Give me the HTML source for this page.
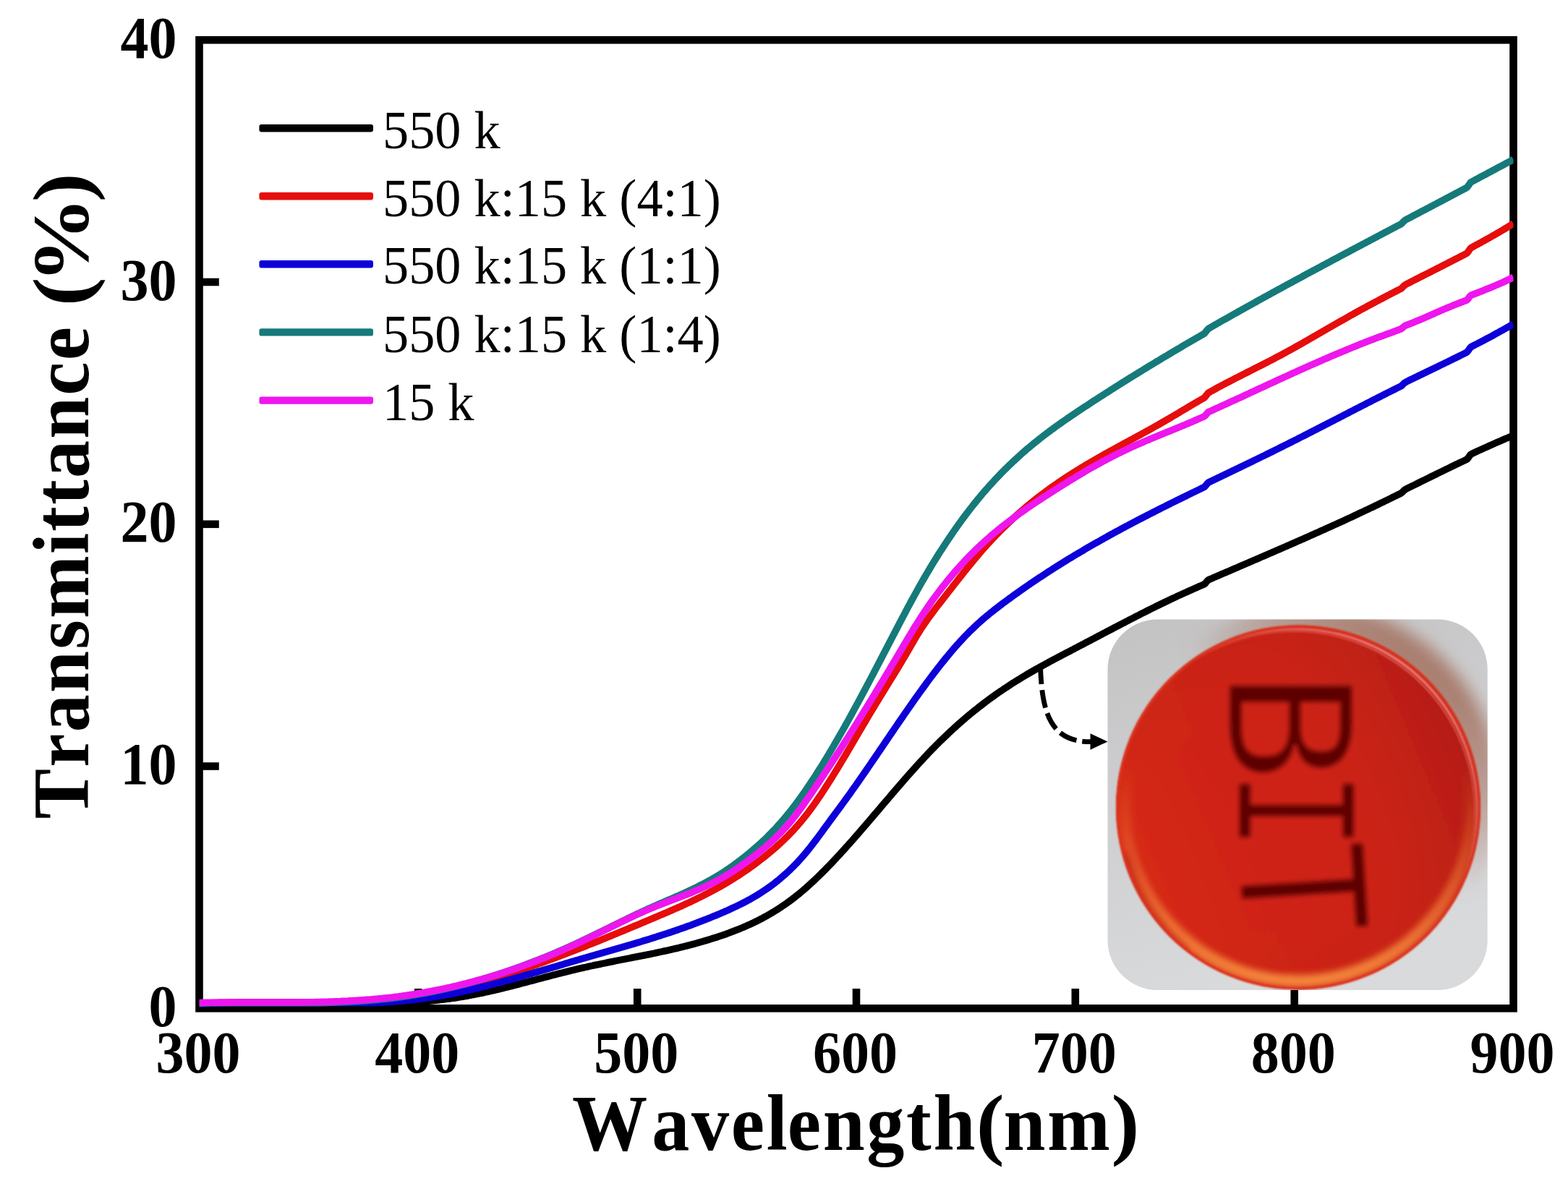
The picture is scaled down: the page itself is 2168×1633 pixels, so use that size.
<!DOCTYPE html>
<html lang="en"><head><meta charset="utf-8"><title>Transmittance vs Wavelength</title>
<style>
html,body{margin:0;padding:0;background:#fff;}
body{width:2168px;height:1633px;overflow:hidden;}
svg{display:block;}
text{font-family:"Liberation Serif","Times New Roman",serif;fill:#000;}
.tk{font-weight:bold;font-size:78px;}
.ax{font-weight:bold;font-size:104.2px;font-kerning:none;letter-spacing:2.65px;}
.lg{font-size:72.3px;}
</style></head><body>
<svg xmlns="http://www.w3.org/2000/svg" width="2168" height="1633" viewBox="0 0 2168 1633">
<defs>
<clipPath id="plot"><rect x="275.5" y="55.3" width="1817.0" height="1339.0"/></clipPath>
<clipPath id="phclip"><rect x="1531.5" y="856.5" width="525.2" height="512.5" rx="69" ry="69"/></clipPath>
<clipPath id="discclip"><circle cx="1795" cy="1116.5" r="252.5"/></clipPath>
<linearGradient id="phbg" x1="0" y1="0" x2="0.25" y2="1"><stop offset="0" stop-color="#c3c2c2"/><stop offset="0.35" stop-color="#cbcbcd"/><stop offset="1" stop-color="#d9dadc"/></linearGradient>
<radialGradient id="disc" gradientUnits="userSpaceOnUse" cx="1760" cy="1130" r="300"><stop offset="0" stop-color="#cf2213"/><stop offset="0.6" stop-color="#cd2415"/><stop offset="0.85" stop-color="#c82416"/><stop offset="1" stop-color="#c42618"/></radialGradient>
<linearGradient id="discshade" gradientUnits="userSpaceOnUse" x1="1560" y1="1200" x2="2040" y2="1000"><stop offset="0" stop-color="#e03018" stop-opacity="0.55"/><stop offset="0.45" stop-color="#d02414" stop-opacity="0"/><stop offset="1" stop-color="#8c0c0a" stop-opacity="0.38"/></linearGradient>
<linearGradient id="glowmask" gradientUnits="userSpaceOnUse" x1="1795" y1="1060" x2="1795" y2="1370"><stop offset="0" stop-color="#000"/><stop offset="0.35" stop-color="#555"/><stop offset="1" stop-color="#fff"/></linearGradient>
<mask id="glowm" maskUnits="userSpaceOnUse" x="1500" y="840" width="600" height="560"><rect x="1500" y="840" width="600" height="560" fill="url(#glowmask)"/></mask>
<linearGradient id="topmask" gradientUnits="userSpaceOnUse" x1="1650" y1="1250" x2="1950" y2="900"><stop offset="0" stop-color="#000"/><stop offset="0.55" stop-color="#000"/><stop offset="1" stop-color="#fff"/></linearGradient>
<mask id="topm" maskUnits="userSpaceOnUse" x="1500" y="840" width="600" height="560"><rect x="1500" y="840" width="600" height="560" fill="url(#topmask)"/></mask>
<filter id="b1" x="-5%" y="-5%" width="110%" height="110%"><feGaussianBlur stdDeviation="1.3"/></filter>
<filter id="b3" x="-10%" y="-10%" width="120%" height="120%"><feGaussianBlur stdDeviation="4"/></filter>
<filter id="b8" x="-20%" y="-20%" width="140%" height="140%"><feGaussianBlur stdDeviation="11"/></filter>
<filter id="ink" x="-20%" y="-20%" width="140%" height="140%"><feMorphology operator="erode" radius="2.2"/><feGaussianBlur stdDeviation="3.2"/></filter>
<filter id="soft" x="0" y="0" width="100%" height="100%" filterUnits="objectBoundingBox"><feGaussianBlur stdDeviation="0.75"/></filter>
</defs>
<rect width="2168" height="1633" fill="#ffffff"/>
<g filter="url(#soft)">
<rect width="2168" height="1633" fill="#ffffff"/>
<rect x="275.5" y="55.3" width="1817.0" height="1339.0" fill="none" stroke="#000" stroke-width="10.6"/>
<g stroke="#000" stroke-width="10.6" fill="none">
<line x1="578.3" y1="1394.3" x2="578.3" y2="1367.0"/>
<line x1="881.2" y1="1394.3" x2="881.2" y2="1367.0"/>
<line x1="1184.0" y1="1394.3" x2="1184.0" y2="1367.0"/>
<line x1="1486.8" y1="1394.3" x2="1486.8" y2="1367.0"/>
<line x1="1789.7" y1="1394.3" x2="1789.7" y2="1367.0"/>
<line x1="275.5" y1="1059.5" x2="302.8" y2="1059.5"/>
<line x1="275.5" y1="724.8" x2="302.8" y2="724.8"/>
<line x1="275.5" y1="390.0" x2="302.8" y2="390.0"/>
</g>
<g clip-path="url(#phclip)">
<rect x="1525" y="850" width="540" height="526" fill="url(#phbg)"/>
<g filter="url(#b8)"><circle cx="1812" cy="1098" r="262" fill="#a3705e" opacity="0.85" mask="url(#topm)"/></g>
<g filter="url(#b1)">
<circle cx="1795" cy="1116.5" r="252" fill="url(#disc)"/>
<circle cx="1795" cy="1116.5" r="252" fill="url(#discshade)"/>
<g clip-path="url(#discclip)">
<g filter="url(#b3)" mask="url(#glowm)"><circle cx="1795" cy="1116.5" r="240" fill="none" stroke="#f58a3e" stroke-width="17"/></g>
<g filter="url(#b3)"><path d="M1556,1180 A248,248 0 0 0 1640,1316" fill="none" stroke="#a81c10" stroke-width="9" opacity="0.55"/></g>
<circle cx="1795" cy="1116.5" r="250.3" fill="none" stroke="#dc3420" stroke-width="4" opacity="0.9"/>
<g mask="url(#topm)"><circle cx="1793" cy="1119" r="249" fill="none" stroke="#ff8c88" stroke-width="2.6"/><circle cx="1790" cy="1122" r="249" fill="none" stroke="#f06a60" stroke-width="2" opacity="0.8"/></g>
</g>
</g>
<g filter="url(#ink)" style="font-family:'DejaVu Sans Mono','Liberation Mono',monospace;font-size:300px;fill:#560606" opacity="0.93">
<text transform="translate(1699,925.5) rotate(90) scale(0.867,0.785)" style="fill:#560606;font-family:'DejaVu Sans Mono','Liberation Mono',monospace;font-size:300px">B</text>
<text transform="translate(1712,1063.5) rotate(90) scale(0.635,0.735)" style="fill:#560606;font-family:'DejaVu Sans Mono','Liberation Mono',monospace;font-size:300px">I</text>
<text transform="translate(1711,1170) rotate(86.4) scale(0.71,0.80)" style="fill:#560606;font-family:'DejaVu Sans Mono','Liberation Mono',monospace;font-size:300px">T</text>
</g>
</g>
<g clip-path="url(#plot)" fill="none" stroke-linejoin="round" stroke-linecap="butt">
<path d="M275.5,1388.7 L278.1,1388.6 L280.7,1388.6 L283.3,1388.5 L285.9,1388.5 L288.5,1388.4 L291.1,1388.4 L293.7,1388.3 L296.3,1388.3 L298.9,1388.3 L301.5,1388.2 L304.1,1388.2 L306.7,1388.2 L309.3,1388.1 L311.9,1388.1 L314.5,1388.1 L317.1,1388.1 L319.7,1388.1 L322.3,1388.1 L324.9,1388.0 L327.5,1388.0 L330.1,1388.0 L332.7,1388.0 L335.3,1388.0 L337.9,1388.0 L340.5,1388.0 L343.1,1388.0 L345.7,1388.0 L348.3,1388.0 L350.9,1388.0 L353.5,1388.0 L356.1,1388.0 L358.7,1388.0 L361.3,1388.0 L363.9,1388.0 L366.5,1388.0 L369.1,1388.0 L371.7,1388.0 L374.3,1388.0 L376.9,1388.0 L379.5,1388.0 L382.1,1388.0 L384.7,1388.0 L387.3,1388.0 L389.9,1388.0 L392.5,1388.0 L395.1,1388.0 L397.7,1388.0 L400.3,1388.0 L402.9,1388.0 L405.5,1388.0 L408.1,1388.0 L410.7,1388.0 L413.3,1388.0 L415.9,1388.0 L418.5,1388.0 L421.1,1388.0 L423.7,1388.0 L426.3,1388.0 L428.9,1388.0 L431.5,1388.0 L434.1,1388.0 L436.7,1388.0 L439.3,1388.0 L441.9,1388.0 L444.5,1388.0 L447.1,1388.0 L449.7,1388.0 L452.3,1388.0 L454.9,1388.0 L457.5,1388.0 L460.1,1388.0 L462.7,1388.0 L465.3,1388.0 L467.9,1388.0 L470.5,1388.0 L473.1,1388.0 L475.7,1388.0 L478.3,1388.0 L480.9,1388.0 L483.5,1388.0 L486.1,1388.0 L488.7,1388.0 L491.3,1388.0 L493.9,1388.0 L496.5,1388.0 L499.1,1388.0 L501.7,1388.0 L504.2,1388.0 L506.8,1388.0 L509.4,1388.0 L512.0,1388.0 L514.6,1388.0 L517.2,1388.0 L519.8,1388.0 L522.4,1388.0 L525.0,1387.9 L527.6,1387.8 L530.2,1387.8 L532.8,1387.7 L535.4,1387.6 L538.0,1387.5 L540.6,1387.4 L543.2,1387.3 L545.8,1387.2 L548.4,1387.1 L551.0,1386.9 L553.6,1386.8 L556.2,1386.7 L558.8,1386.6 L561.4,1386.4 L564.0,1386.3 L566.6,1386.1 L569.2,1385.9 L571.8,1385.8 L574.4,1385.6 L577.0,1385.4 L579.6,1385.2 L582.2,1385.0 L584.8,1384.8 L587.4,1384.6 L590.0,1384.4 L592.6,1384.2 L595.2,1383.9 L597.8,1383.7 L600.4,1383.4 L603.0,1383.1 L605.6,1382.9 L608.2,1382.6 L610.8,1382.3 L613.4,1382.0 L616.0,1381.6 L618.6,1381.3 L621.2,1381.0 L623.8,1380.6 L626.4,1380.2 L629.0,1379.9 L631.6,1379.5 L634.2,1379.1 L636.8,1378.6 L639.4,1378.2 L642.0,1377.8 L644.6,1377.3 L647.2,1376.9 L649.8,1376.4 L652.4,1375.9 L655.0,1375.4 L657.6,1374.9 L660.2,1374.3 L662.8,1373.8 L665.4,1373.3 L668.0,1372.7 L670.6,1372.1 L673.2,1371.6 L675.8,1371.0 L678.4,1370.4 L681.0,1369.8 L683.6,1369.2 L686.2,1368.6 L688.8,1368.0 L691.4,1367.3 L694.0,1366.7 L696.6,1366.1 L699.2,1365.4 L701.8,1364.8 L704.4,1364.1 L707.0,1363.5 L709.6,1362.8 L712.2,1362.1 L714.8,1361.5 L717.4,1360.8 L720.0,1360.1 L722.6,1359.4 L725.2,1358.7 L727.8,1358.1 L730.4,1357.4 L733.0,1356.7 L735.6,1356.0 L738.2,1355.3 L740.8,1354.6 L743.4,1353.9 L746.0,1353.2 L748.6,1352.6 L751.2,1351.9 L753.8,1351.2 L756.4,1350.5 L759.0,1349.8 L761.6,1349.1 L764.2,1348.4 L766.8,1347.8 L769.4,1347.1 L772.0,1346.4 L774.6,1345.8 L777.2,1345.1 L779.8,1344.5 L782.4,1343.8 L785.0,1343.2 L787.6,1342.5 L790.2,1341.9 L792.8,1341.3 L795.4,1340.6 L798.0,1340.0 L800.6,1339.4 L803.2,1338.8 L805.8,1338.2 L808.4,1337.6 L811.0,1337.1 L813.6,1336.5 L816.2,1335.9 L818.8,1335.4 L821.4,1334.8 L824.0,1334.2 L826.6,1333.7 L829.2,1333.2 L831.8,1332.6 L834.4,1332.1 L837.0,1331.6 L839.6,1331.0 L842.2,1330.5 L844.8,1330.0 L847.4,1329.5 L850.0,1328.9 L852.6,1328.4 L855.2,1327.9 L857.8,1327.4 L860.4,1326.9 L863.0,1326.4 L865.6,1325.9 L868.2,1325.4 L870.8,1324.9 L873.4,1324.3 L876.0,1323.8 L878.6,1323.3 L881.2,1322.8 L883.8,1322.3 L886.4,1321.8 L889.0,1321.3 L891.6,1320.7 L894.2,1320.2 L896.8,1319.7 L899.4,1319.2 L902.0,1318.6 L904.6,1318.1 L907.2,1317.5 L909.8,1317.0 L912.4,1316.4 L915.0,1315.9 L917.6,1315.3 L920.2,1314.7 L922.8,1314.2 L925.4,1313.6 L928.0,1313.0 L930.6,1312.4 L933.2,1311.8 L935.8,1311.2 L938.4,1310.6 L941.0,1309.9 L943.6,1309.3 L946.2,1308.6 L948.8,1308.0 L951.4,1307.3 L954.0,1306.7 L956.6,1306.0 L959.1,1305.3 L961.7,1304.6 L964.3,1303.9 L966.9,1303.1 L969.5,1302.4 L972.1,1301.7 L974.7,1300.9 L977.3,1300.1 L979.9,1299.3 L982.5,1298.5 L985.1,1297.7 L987.7,1296.9 L990.3,1296.1 L992.9,1295.2 L995.5,1294.3 L998.1,1293.5 L1000.7,1292.6 L1003.3,1291.7 L1005.9,1290.7 L1008.5,1289.8 L1011.1,1288.8 L1013.7,1287.8 L1016.3,1286.8 L1018.9,1285.8 L1021.5,1284.8 L1024.1,1283.7 L1026.7,1282.6 L1029.3,1281.5 L1031.9,1280.4 L1034.5,1279.2 L1037.1,1278.1 L1039.7,1276.8 L1042.3,1275.6 L1044.9,1274.3 L1047.5,1273.1 L1050.1,1271.7 L1052.7,1270.4 L1055.3,1269.0 L1057.9,1267.6 L1060.5,1266.2 L1063.1,1264.7 L1065.7,1263.2 L1068.3,1261.6 L1070.9,1260.0 L1073.5,1258.4 L1076.1,1256.8 L1078.7,1255.1 L1081.3,1253.3 L1083.9,1251.6 L1086.5,1249.8 L1089.1,1247.9 L1091.7,1246.0 L1094.3,1244.1 L1096.9,1242.1 L1099.5,1240.1 L1102.1,1238.0 L1104.7,1235.9 L1107.3,1233.8 L1109.9,1231.6 L1112.5,1229.3 L1115.1,1227.1 L1117.7,1224.7 L1120.3,1222.4 L1122.9,1220.0 L1125.5,1217.6 L1128.1,1215.1 L1130.7,1212.6 L1133.3,1210.1 L1135.9,1207.5 L1138.5,1205.0 L1141.1,1202.3 L1143.7,1199.7 L1146.3,1197.0 L1148.9,1194.3 L1151.5,1191.6 L1154.1,1188.8 L1156.7,1186.0 L1159.3,1183.2 L1161.9,1180.4 L1164.5,1177.6 L1167.1,1174.7 L1169.7,1171.8 L1172.3,1168.9 L1174.9,1166.0 L1177.5,1163.1 L1180.1,1160.1 L1182.7,1157.1 L1185.3,1154.2 L1187.9,1151.2 L1190.5,1148.2 L1193.1,1145.2 L1195.7,1142.1 L1198.3,1139.1 L1200.9,1136.1 L1203.5,1133.0 L1206.1,1130.0 L1208.7,1126.9 L1211.3,1123.9 L1213.9,1120.8 L1216.5,1117.8 L1219.1,1114.7 L1221.7,1111.7 L1224.3,1108.6 L1226.9,1105.6 L1229.5,1102.5 L1232.1,1099.5 L1234.7,1096.4 L1237.3,1093.4 L1239.9,1090.4 L1242.5,1087.4 L1245.1,1084.4 L1247.7,1081.4 L1250.3,1078.4 L1252.9,1075.4 L1255.5,1072.4 L1258.1,1069.5 L1260.7,1066.6 L1263.3,1063.7 L1265.9,1060.8 L1268.5,1057.9 L1271.1,1055.1 L1273.7,1052.2 L1276.3,1049.4 L1278.9,1046.6 L1281.5,1043.9 L1284.1,1041.1 L1286.7,1038.4 L1289.3,1035.7 L1291.9,1033.1 L1294.5,1030.4 L1297.1,1027.8 L1299.7,1025.2 L1302.3,1022.7 L1304.9,1020.2 L1307.5,1017.7 L1310.1,1015.2 L1312.7,1012.8 L1315.3,1010.3 L1317.9,1008.0 L1320.5,1005.6 L1323.1,1003.2 L1325.7,1000.9 L1328.3,998.6 L1330.9,996.4 L1333.5,994.1 L1336.1,991.9 L1338.7,989.7 L1341.3,987.6 L1343.9,985.4 L1346.5,983.3 L1349.1,981.2 L1351.7,979.2 L1354.3,977.1 L1356.9,975.1 L1359.5,973.1 L1362.1,971.1 L1364.7,969.2 L1367.3,967.2 L1369.9,965.3 L1372.5,963.5 L1375.1,961.6 L1377.7,959.7 L1380.3,957.9 L1382.9,956.1 L1385.5,954.4 L1388.1,952.6 L1390.7,950.9 L1393.3,949.2 L1395.9,947.5 L1398.5,945.8 L1401.1,944.1 L1403.7,942.5 L1406.3,940.9 L1408.9,939.3 L1411.4,937.7 L1414.0,936.1 L1416.6,934.6 L1419.2,933.0 L1421.8,931.5 L1424.4,930.0 L1427.0,928.5 L1429.6,927.0 L1432.2,925.5 L1434.8,924.1 L1437.4,922.6 L1440.0,921.2 L1442.6,919.8 L1445.2,918.3 L1447.8,916.9 L1450.4,915.5 L1453.0,914.1 L1455.6,912.7 L1458.2,911.3 L1460.8,910.0 L1463.4,908.6 L1466.0,907.2 L1468.6,905.8 L1471.2,904.5 L1473.8,903.1 L1476.4,901.8 L1479.0,900.4 L1481.6,899.0 L1484.2,897.7 L1486.8,896.3 L1489.4,895.0 L1492.0,893.6 L1494.6,892.2 L1497.2,890.9 L1499.8,889.5 L1502.4,888.1 L1505.0,886.8 L1507.6,885.4 L1510.2,884.0 L1512.8,882.7 L1515.4,881.3 L1518.0,879.9 L1520.6,878.6 L1523.2,877.2 L1525.8,875.8 L1528.4,874.5 L1531.0,873.1 L1533.6,871.7 L1536.2,870.4 L1538.8,869.0 L1541.4,867.6 L1544.0,866.3 L1546.6,864.9 L1549.2,863.6 L1551.8,862.2 L1554.4,860.9 L1557.0,859.5 L1559.6,858.2 L1562.2,856.8 L1564.8,855.5 L1567.4,854.2 L1570.0,852.8 L1572.6,851.5 L1575.2,850.2 L1577.8,848.8 L1580.4,847.5 L1583.0,846.2 L1585.6,844.9 L1588.2,843.6 L1590.8,842.3 L1593.4,841.0 L1596.0,839.7 L1598.6,838.4 L1601.2,837.2 L1603.8,835.9 L1606.4,834.6 L1609.0,833.4 L1611.6,832.1 L1614.2,830.9 L1616.8,829.6 L1619.4,828.4 L1622.0,827.2 L1624.6,826.0 L1627.2,824.7 L1629.8,823.5 L1632.4,822.3 L1635.0,821.2 L1637.6,820.0 L1640.2,818.8 L1642.8,817.6 L1645.4,816.5 L1648.0,815.3 L1650.6,814.2 L1653.2,813.0 L1655.8,811.9 L1658.4,810.7 L1661.0,809.6 L1663.6,808.5 L1664.0,808.3 L1665.0,807.9 L1666.0,807.1 L1666.2,806.9 L1667.0,805.9 L1668.0,804.8 L1668.8,803.9 L1669.0,803.7 L1670.0,802.5 L1671.0,801.8 L1671.4,801.6 L1672.0,801.3 L1674.0,800.5 L1676.6,799.3 L1679.2,798.2 L1681.8,797.1 L1684.4,796.0 L1687.0,794.9 L1689.6,793.7 L1692.2,792.6 L1694.8,791.5 L1697.4,790.4 L1700.0,789.3 L1702.6,788.1 L1705.2,787.0 L1707.8,785.9 L1710.4,784.8 L1713.0,783.7 L1715.6,782.5 L1718.2,781.4 L1720.8,780.3 L1723.4,779.2 L1726.0,778.1 L1728.6,776.9 L1731.2,775.8 L1733.8,774.7 L1736.4,773.6 L1739.0,772.5 L1741.6,771.3 L1744.2,770.2 L1746.8,769.1 L1749.4,768.0 L1752.0,766.8 L1754.6,765.7 L1757.2,764.6 L1759.8,763.5 L1762.4,762.3 L1765.0,761.2 L1767.6,760.1 L1770.2,759.0 L1772.8,757.8 L1775.4,756.7 L1778.0,755.6 L1780.6,754.4 L1783.2,753.3 L1785.8,752.1 L1788.4,751.0 L1791.0,749.9 L1793.6,748.7 L1796.2,747.6 L1798.8,746.4 L1801.4,745.3 L1804.0,744.1 L1806.6,743.0 L1809.2,741.8 L1811.8,740.7 L1814.4,739.5 L1817.0,738.4 L1819.6,737.2 L1822.2,736.1 L1824.8,734.9 L1827.4,733.7 L1830.0,732.6 L1832.6,731.4 L1835.2,730.2 L1837.8,729.0 L1840.4,727.9 L1843.0,726.7 L1845.6,725.5 L1848.2,724.3 L1850.8,723.1 L1853.4,722.0 L1856.0,720.8 L1858.6,719.6 L1861.2,718.4 L1863.8,717.2 L1866.3,716.0 L1868.9,714.8 L1871.5,713.6 L1874.1,712.3 L1876.7,711.1 L1879.3,709.9 L1881.9,708.7 L1884.5,707.5 L1887.1,706.2 L1889.7,705.0 L1892.3,703.8 L1894.9,702.5 L1897.5,701.3 L1900.1,700.1 L1902.7,698.8 L1905.3,697.6 L1907.9,696.3 L1910.5,695.0 L1913.1,693.8 L1915.7,692.5 L1918.3,691.3 L1920.9,690.0 L1923.5,688.7 L1926.1,687.4 L1928.7,686.2 L1931.3,684.9 L1933.9,683.6 L1936.0,682.6 L1936.5,682.3 L1937.0,682.1 L1938.0,681.4 L1939.0,680.4 L1939.1,680.3 L1940.0,679.4 L1941.0,678.5 L1941.7,677.7 L1942.0,677.5 L1943.0,676.8 L1944.0,676.3 L1944.3,676.1 L1946.9,674.8 L1949.5,673.5 L1952.1,672.2 L1954.7,671.0 L1957.3,669.7 L1959.9,668.4 L1962.5,667.1 L1965.1,665.8 L1967.7,664.5 L1970.3,663.3 L1972.9,662.0 L1975.5,660.7 L1978.1,659.4 L1980.7,658.1 L1983.3,656.9 L1985.9,655.6 L1988.5,654.3 L1991.1,653.0 L1993.7,651.8 L1996.3,650.5 L1998.9,649.2 L2001.5,648.0 L2004.1,646.7 L2006.7,645.4 L2009.3,644.2 L2011.9,642.9 L2014.5,641.7 L2017.1,640.4 L2019.7,639.2 L2022.3,638.0 L2024.9,636.7 L2027.0,635.7 L2027.5,635.5 L2028.0,635.3 L2029.0,634.4 L2030.0,633.0 L2030.1,632.8 L2031.0,631.6 L2032.0,630.2 L2032.7,629.3 L2033.0,628.9 L2034.0,628.0 L2035.0,627.5 L2035.3,627.3 L2037.9,626.1 L2040.5,624.9 L2043.1,623.7 L2045.7,622.5 L2048.3,621.3 L2050.9,620.2 L2053.5,619.0 L2056.1,617.8 L2058.7,616.6 L2061.3,615.5 L2063.9,614.3 L2066.5,613.2 L2069.1,612.0 L2071.7,610.9 L2074.3,609.8 L2076.9,608.6 L2079.5,607.5 L2082.1,606.4 L2084.7,605.3 L2087.3,604.2 L2089.9,603.1 L2092.5,602.1" stroke="#000000" stroke-width="9.6"/>
<path d="M275.5,1387.4 L278.1,1387.3 L280.7,1387.2 L283.3,1387.0 L285.9,1386.9 L288.5,1386.8 L291.1,1386.7 L293.7,1386.6 L296.3,1386.6 L298.9,1386.5 L301.5,1386.4 L304.1,1386.3 L306.7,1386.3 L309.3,1386.2 L311.9,1386.2 L314.5,1386.1 L317.1,1386.1 L319.7,1386.1 L322.3,1386.1 L324.9,1386.0 L327.5,1386.0 L330.1,1386.0 L332.7,1386.0 L335.3,1386.0 L337.9,1386.0 L340.5,1386.0 L343.1,1386.0 L345.7,1386.0 L348.3,1386.0 L350.9,1386.0 L353.5,1386.0 L356.1,1386.0 L358.7,1386.0 L361.3,1386.0 L363.9,1386.0 L366.5,1386.0 L369.1,1386.0 L371.7,1386.0 L374.3,1386.0 L376.9,1386.0 L379.5,1386.0 L382.1,1386.0 L384.7,1386.0 L387.3,1386.0 L389.9,1386.0 L392.5,1386.0 L395.1,1386.0 L397.7,1386.0 L400.3,1386.0 L402.9,1386.0 L405.5,1386.0 L408.1,1386.0 L410.7,1386.0 L413.3,1386.0 L415.9,1386.0 L418.5,1386.0 L421.1,1386.0 L423.7,1386.0 L426.3,1386.0 L428.9,1386.0 L431.5,1386.0 L434.1,1386.0 L436.7,1386.0 L439.3,1386.0 L441.9,1386.0 L444.5,1386.0 L447.1,1386.0 L449.7,1386.0 L452.3,1386.0 L454.9,1386.0 L457.5,1386.0 L460.1,1386.0 L462.7,1386.0 L465.3,1386.0 L467.9,1386.0 L470.5,1386.0 L473.1,1386.0 L475.7,1386.0 L478.3,1386.0 L480.9,1386.0 L483.5,1386.0 L486.1,1386.0 L488.7,1386.0 L491.3,1386.0 L493.9,1386.0 L496.5,1386.0 L499.1,1386.0 L501.7,1386.0 L504.2,1385.9 L506.8,1385.7 L509.4,1385.6 L512.0,1385.4 L514.6,1385.2 L517.2,1385.1 L519.8,1384.9 L522.4,1384.7 L525.0,1384.5 L527.6,1384.3 L530.2,1384.0 L532.8,1383.8 L535.4,1383.6 L538.0,1383.3 L540.6,1383.0 L543.2,1382.7 L545.8,1382.5 L548.4,1382.2 L551.0,1381.8 L553.6,1381.5 L556.2,1381.2 L558.8,1380.8 L561.4,1380.5 L564.0,1380.1 L566.6,1379.7 L569.2,1379.3 L571.8,1378.9 L574.4,1378.5 L577.0,1378.1 L579.6,1377.7 L582.2,1377.2 L584.8,1376.8 L587.4,1376.3 L590.0,1375.9 L592.6,1375.4 L595.2,1374.9 L597.8,1374.4 L600.4,1373.9 L603.0,1373.4 L605.6,1372.8 L608.2,1372.3 L610.8,1371.7 L613.4,1371.2 L616.0,1370.6 L618.6,1370.0 L621.2,1369.5 L623.8,1368.9 L626.4,1368.3 L629.0,1367.7 L631.6,1367.0 L634.2,1366.4 L636.8,1365.8 L639.4,1365.1 L642.0,1364.5 L644.6,1363.8 L647.2,1363.1 L649.8,1362.5 L652.4,1361.8 L655.0,1361.1 L657.6,1360.4 L660.2,1359.7 L662.8,1358.9 L665.4,1358.2 L668.0,1357.5 L670.6,1356.7 L673.2,1356.0 L675.8,1355.2 L678.4,1354.5 L681.0,1353.7 L683.6,1352.9 L686.2,1352.1 L688.8,1351.3 L691.4,1350.5 L694.0,1349.7 L696.6,1348.9 L699.2,1348.1 L701.8,1347.3 L704.4,1346.4 L707.0,1345.6 L709.6,1344.8 L712.2,1343.9 L714.8,1343.0 L717.4,1342.2 L720.0,1341.3 L722.6,1340.4 L725.2,1339.6 L727.8,1338.7 L730.4,1337.8 L733.0,1336.9 L735.6,1336.0 L738.2,1335.1 L740.8,1334.1 L743.4,1333.2 L746.0,1332.3 L748.6,1331.4 L751.2,1330.4 L753.8,1329.5 L756.4,1328.5 L759.0,1327.6 L761.6,1326.6 L764.2,1325.7 L766.8,1324.7 L769.4,1323.7 L772.0,1322.8 L774.6,1321.8 L777.2,1320.8 L779.8,1319.8 L782.4,1318.8 L785.0,1317.8 L787.6,1316.8 L790.2,1315.8 L792.8,1314.8 L795.4,1313.8 L798.0,1312.8 L800.6,1311.8 L803.2,1310.7 L805.8,1309.7 L808.4,1308.7 L811.0,1307.7 L813.6,1306.6 L816.2,1305.6 L818.8,1304.6 L821.4,1303.5 L824.0,1302.5 L826.6,1301.4 L829.2,1300.4 L831.8,1299.3 L834.4,1298.2 L837.0,1297.2 L839.6,1296.1 L842.2,1295.1 L844.8,1294.0 L847.4,1292.9 L850.0,1291.8 L852.6,1290.8 L855.2,1289.7 L857.8,1288.6 L860.4,1287.5 L863.0,1286.5 L865.6,1285.4 L868.2,1284.3 L870.8,1283.2 L873.4,1282.1 L876.0,1281.0 L878.6,1279.9 L881.2,1278.9 L883.8,1277.8 L886.4,1276.7 L889.0,1275.6 L891.6,1274.5 L894.2,1273.4 L896.8,1272.3 L899.4,1271.2 L902.0,1270.1 L904.6,1269.0 L907.2,1267.9 L909.8,1266.8 L912.4,1265.7 L915.0,1264.6 L917.6,1263.5 L920.2,1262.4 L922.8,1261.3 L925.4,1260.1 L928.0,1259.0 L930.6,1257.9 L933.2,1256.7 L935.8,1255.6 L938.4,1254.4 L941.0,1253.3 L943.6,1252.1 L946.2,1250.9 L948.8,1249.7 L951.4,1248.5 L954.0,1247.3 L956.6,1246.1 L959.1,1244.8 L961.7,1243.6 L964.3,1242.3 L966.9,1241.0 L969.5,1239.8 L972.1,1238.5 L974.7,1237.1 L977.3,1235.8 L979.9,1234.5 L982.5,1233.1 L985.1,1231.7 L987.7,1230.3 L990.3,1228.9 L992.9,1227.4 L995.5,1226.0 L998.1,1224.5 L1000.7,1223.0 L1003.3,1221.5 L1005.9,1220.0 L1008.5,1218.4 L1011.1,1216.8 L1013.7,1215.2 L1016.3,1213.6 L1018.9,1211.9 L1021.5,1210.3 L1024.1,1208.5 L1026.7,1206.8 L1029.3,1205.1 L1031.9,1203.3 L1034.5,1201.5 L1037.1,1199.6 L1039.7,1197.8 L1042.3,1195.9 L1044.9,1194.0 L1047.5,1192.0 L1050.1,1190.0 L1052.7,1188.0 L1055.3,1186.0 L1057.9,1183.9 L1060.5,1181.8 L1063.1,1179.7 L1065.7,1177.5 L1068.3,1175.3 L1070.9,1173.1 L1073.5,1170.8 L1076.1,1168.4 L1078.7,1166.1 L1081.3,1163.6 L1083.9,1161.2 L1086.5,1158.6 L1089.1,1156.1 L1091.7,1153.4 L1094.3,1150.7 L1096.9,1147.9 L1099.5,1145.1 L1102.1,1142.2 L1104.7,1139.2 L1107.3,1136.1 L1109.9,1133.0 L1112.5,1129.8 L1115.1,1126.5 L1117.7,1123.1 L1120.3,1119.6 L1122.9,1116.1 L1125.5,1112.5 L1128.1,1108.8 L1130.7,1105.0 L1133.3,1101.2 L1135.9,1097.3 L1138.5,1093.4 L1141.1,1089.4 L1143.7,1085.4 L1146.3,1081.3 L1148.9,1077.1 L1151.5,1073.0 L1154.1,1068.8 L1156.7,1064.5 L1159.3,1060.2 L1161.9,1055.9 L1164.5,1051.6 L1167.1,1047.2 L1169.7,1042.9 L1172.3,1038.5 L1174.9,1034.1 L1177.5,1029.6 L1180.1,1025.2 L1182.7,1020.8 L1185.3,1016.3 L1187.9,1011.9 L1190.5,1007.5 L1193.1,1003.1 L1195.7,998.7 L1198.3,994.3 L1200.9,989.9 L1203.5,985.5 L1206.1,981.2 L1208.7,976.9 L1211.3,972.6 L1213.9,968.4 L1216.5,964.1 L1219.1,959.9 L1221.7,955.7 L1224.3,951.5 L1226.9,947.3 L1229.5,943.0 L1232.1,938.8 L1234.7,934.6 L1237.3,930.3 L1239.9,926.1 L1242.5,921.8 L1245.1,917.5 L1247.7,913.1 L1250.3,908.7 L1252.9,904.3 L1255.5,899.8 L1258.1,895.3 L1260.7,890.8 L1263.3,886.3 L1265.9,881.9 L1268.5,877.6 L1271.1,873.4 L1273.7,869.3 L1276.3,865.3 L1278.9,861.5 L1281.5,857.8 L1284.1,854.1 L1286.7,850.6 L1289.3,847.1 L1291.9,843.6 L1294.5,840.2 L1297.1,836.9 L1299.7,833.5 L1302.3,830.2 L1304.9,826.9 L1307.5,823.6 L1310.1,820.2 L1312.7,816.9 L1315.3,813.6 L1317.9,810.2 L1320.5,806.9 L1323.1,803.6 L1325.7,800.3 L1328.3,797.0 L1330.9,793.7 L1333.5,790.4 L1336.1,787.2 L1338.7,784.0 L1341.3,780.8 L1343.9,777.6 L1346.5,774.5 L1349.1,771.3 L1351.7,768.3 L1354.3,765.2 L1356.9,762.2 L1359.5,759.2 L1362.1,756.3 L1364.7,753.4 L1367.3,750.5 L1369.9,747.7 L1372.5,744.9 L1375.1,742.2 L1377.7,739.5 L1380.3,736.8 L1382.9,734.2 L1385.5,731.6 L1388.1,729.0 L1390.7,726.5 L1393.3,724.0 L1395.9,721.5 L1398.5,719.1 L1401.1,716.7 L1403.7,714.3 L1406.3,711.9 L1408.9,709.6 L1411.4,707.4 L1414.0,705.1 L1416.6,702.9 L1419.2,700.7 L1421.8,698.5 L1424.4,696.4 L1427.0,694.3 L1429.6,692.2 L1432.2,690.1 L1434.8,688.1 L1437.4,686.1 L1440.0,684.1 L1442.6,682.2 L1445.2,680.2 L1447.8,678.3 L1450.4,676.4 L1453.0,674.5 L1455.6,672.7 L1458.2,670.9 L1460.8,669.1 L1463.4,667.3 L1466.0,665.5 L1468.6,663.8 L1471.2,662.0 L1473.8,660.3 L1476.4,658.6 L1479.0,656.9 L1481.6,655.3 L1484.2,653.6 L1486.8,652.0 L1489.4,650.4 L1492.0,648.8 L1494.6,647.2 L1497.2,645.6 L1499.8,644.0 L1502.4,642.5 L1505.0,641.0 L1507.6,639.4 L1510.2,637.9 L1512.8,636.4 L1515.4,634.9 L1518.0,633.4 L1520.6,631.9 L1523.2,630.5 L1525.8,629.0 L1528.4,627.5 L1531.0,626.1 L1533.6,624.6 L1536.2,623.2 L1538.8,621.8 L1541.4,620.3 L1544.0,618.9 L1546.6,617.5 L1549.2,616.1 L1551.8,614.6 L1554.4,613.2 L1557.0,611.8 L1559.6,610.4 L1562.2,609.0 L1564.8,607.6 L1567.4,606.1 L1570.0,604.7 L1572.6,603.3 L1575.2,601.9 L1577.8,600.5 L1580.4,599.1 L1583.0,597.6 L1585.6,596.2 L1588.2,594.8 L1590.8,593.3 L1593.4,591.9 L1596.0,590.4 L1598.6,588.9 L1601.2,587.5 L1603.8,586.0 L1606.4,584.5 L1609.0,583.0 L1611.6,581.5 L1614.2,580.0 L1616.8,578.5 L1619.4,577.0 L1622.0,575.4 L1624.6,573.9 L1627.2,572.3 L1629.8,570.8 L1632.4,569.2 L1635.0,567.7 L1637.6,566.1 L1640.2,564.6 L1642.8,563.0 L1645.4,561.5 L1648.0,559.9 L1650.6,558.4 L1653.2,556.9 L1655.8,555.3 L1658.4,553.8 L1661.0,552.3 L1663.6,550.8 L1664.0,550.5 L1665.0,550.0 L1666.0,549.0 L1666.2,548.8 L1667.0,547.8 L1668.0,546.5 L1668.8,545.5 L1669.0,545.2 L1670.0,544.0 L1671.0,543.0 L1671.4,542.8 L1672.0,542.5 L1674.0,541.4 L1676.6,539.9 L1679.2,538.5 L1681.8,537.0 L1684.4,535.6 L1687.0,534.2 L1689.6,532.8 L1692.2,531.5 L1694.8,530.1 L1697.4,528.7 L1700.0,527.4 L1702.6,526.0 L1705.2,524.7 L1707.8,523.3 L1710.4,522.0 L1713.0,520.7 L1715.6,519.4 L1718.2,518.0 L1720.8,516.7 L1723.4,515.4 L1726.0,514.1 L1728.6,512.8 L1731.2,511.5 L1733.8,510.1 L1736.4,508.8 L1739.0,507.5 L1741.6,506.2 L1744.2,504.9 L1746.8,503.6 L1749.4,502.2 L1752.0,500.9 L1754.6,499.5 L1757.2,498.2 L1759.8,496.9 L1762.4,495.5 L1765.0,494.1 L1767.6,492.7 L1770.2,491.4 L1772.8,490.0 L1775.4,488.6 L1778.0,487.2 L1780.6,485.7 L1783.2,484.3 L1785.8,482.9 L1788.4,481.4 L1791.0,480.0 L1793.6,478.5 L1796.2,477.1 L1798.8,475.6 L1801.4,474.1 L1804.0,472.6 L1806.6,471.2 L1809.2,469.7 L1811.8,468.2 L1814.4,466.7 L1817.0,465.2 L1819.6,463.7 L1822.2,462.2 L1824.8,460.7 L1827.4,459.2 L1830.0,457.7 L1832.6,456.2 L1835.2,454.7 L1837.8,453.2 L1840.4,451.7 L1843.0,450.2 L1845.6,448.7 L1848.2,447.2 L1850.8,445.7 L1853.4,444.2 L1856.0,442.8 L1858.6,441.3 L1861.2,439.8 L1863.8,438.3 L1866.3,436.9 L1868.9,435.4 L1871.5,434.0 L1874.1,432.5 L1876.7,431.1 L1879.3,429.7 L1881.9,428.2 L1884.5,426.8 L1887.1,425.4 L1889.7,424.0 L1892.3,422.6 L1894.9,421.2 L1897.5,419.8 L1900.1,418.4 L1902.7,417.0 L1905.3,415.7 L1907.9,414.3 L1910.5,412.9 L1913.1,411.6 L1915.7,410.2 L1918.3,408.8 L1920.9,407.5 L1923.5,406.1 L1926.1,404.8 L1928.7,403.4 L1931.3,402.1 L1933.9,400.8 L1936.0,399.7 L1936.5,399.4 L1937.0,399.2 L1938.0,398.4 L1939.0,397.4 L1939.1,397.3 L1940.0,396.4 L1941.0,395.5 L1941.7,394.7 L1942.0,394.5 L1943.0,393.7 L1944.0,393.2 L1944.3,393.0 L1946.9,391.7 L1949.5,390.4 L1952.1,389.0 L1954.7,387.7 L1957.3,386.4 L1959.9,385.1 L1962.5,383.8 L1965.1,382.4 L1967.7,381.1 L1970.3,379.8 L1972.9,378.5 L1975.5,377.2 L1978.1,375.9 L1980.7,374.5 L1983.3,373.2 L1985.9,371.9 L1988.5,370.6 L1991.1,369.3 L1993.7,367.9 L1996.3,366.6 L1998.9,365.3 L2001.5,364.0 L2004.1,362.6 L2006.7,361.3 L2009.3,360.0 L2011.9,358.6 L2014.5,357.3 L2017.1,356.0 L2019.7,354.6 L2022.3,353.3 L2024.9,351.9 L2027.0,350.8 L2027.5,350.5 L2028.0,350.3 L2029.0,349.3 L2030.0,347.9 L2030.1,347.7 L2031.0,346.4 L2032.0,345.0 L2032.7,344.0 L2033.0,343.6 L2034.0,342.6 L2035.0,342.1 L2035.3,341.9 L2037.9,340.5 L2040.5,339.1 L2043.1,337.7 L2045.7,336.3 L2048.3,334.9 L2050.9,333.4 L2053.5,332.0 L2056.1,330.6 L2058.7,329.1 L2061.3,327.6 L2063.9,326.1 L2066.5,324.7 L2069.1,323.2 L2071.7,321.6 L2074.3,320.1 L2076.9,318.6 L2079.5,317.0 L2082.1,315.5 L2084.7,313.9 L2087.3,312.3 L2089.9,310.7 L2092.5,309.1" stroke="#e60f0f" stroke-width="9.6"/>
<path d="M275.5,1387.9 L278.1,1387.8 L280.7,1387.7 L283.3,1387.6 L285.9,1387.5 L288.5,1387.4 L291.1,1387.3 L293.7,1387.2 L296.3,1387.1 L298.9,1387.1 L301.5,1387.0 L304.1,1387.0 L306.7,1386.9 L309.3,1386.9 L311.9,1386.8 L314.5,1386.8 L317.1,1386.7 L319.7,1386.7 L322.3,1386.7 L324.9,1386.7 L327.5,1386.6 L330.1,1386.6 L332.7,1386.6 L335.3,1386.6 L337.9,1386.6 L340.5,1386.6 L343.1,1386.6 L345.7,1386.6 L348.3,1386.6 L350.9,1386.6 L353.5,1386.6 L356.1,1386.6 L358.7,1386.6 L361.3,1386.6 L363.9,1386.6 L366.5,1386.6 L369.1,1386.6 L371.7,1386.6 L374.3,1386.6 L376.9,1386.6 L379.5,1386.6 L382.1,1386.6 L384.7,1386.6 L387.3,1386.6 L389.9,1386.6 L392.5,1386.6 L395.1,1386.6 L397.7,1386.6 L400.3,1386.6 L402.9,1386.6 L405.5,1386.6 L408.1,1386.6 L410.7,1386.6 L413.3,1386.6 L415.9,1386.6 L418.5,1386.6 L421.1,1386.6 L423.7,1386.6 L426.3,1386.6 L428.9,1386.6 L431.5,1386.6 L434.1,1386.6 L436.7,1386.6 L439.3,1386.6 L441.9,1386.6 L444.5,1386.6 L447.1,1386.6 L449.7,1386.6 L452.3,1386.6 L454.9,1386.6 L457.5,1386.6 L460.1,1386.6 L462.7,1386.6 L465.3,1386.6 L467.9,1386.6 L470.5,1386.6 L473.1,1386.6 L475.7,1386.6 L478.3,1386.6 L480.9,1386.6 L483.5,1386.6 L486.1,1386.6 L488.7,1386.6 L491.3,1386.6 L493.9,1386.6 L496.5,1386.6 L499.1,1386.6 L501.7,1386.6 L504.2,1386.6 L506.8,1386.6 L509.4,1386.6 L512.0,1386.6 L514.6,1386.6 L517.2,1386.6 L519.8,1386.5 L522.4,1386.4 L525.0,1386.3 L527.6,1386.1 L530.2,1386.0 L532.8,1385.8 L535.4,1385.6 L538.0,1385.5 L540.6,1385.3 L543.2,1385.1 L545.8,1384.9 L548.4,1384.7 L551.0,1384.5 L553.6,1384.2 L556.2,1384.0 L558.8,1383.7 L561.4,1383.5 L564.0,1383.2 L566.6,1382.9 L569.2,1382.7 L571.8,1382.4 L574.4,1382.1 L577.0,1381.7 L579.6,1381.4 L582.2,1381.1 L584.8,1380.7 L587.4,1380.4 L590.0,1380.0 L592.6,1379.6 L595.2,1379.2 L597.8,1378.8 L600.4,1378.4 L603.0,1378.0 L605.6,1377.6 L608.2,1377.1 L610.8,1376.7 L613.4,1376.2 L616.0,1375.7 L618.6,1375.2 L621.2,1374.7 L623.8,1374.2 L626.4,1373.7 L629.0,1373.2 L631.6,1372.7 L634.2,1372.1 L636.8,1371.6 L639.4,1371.0 L642.0,1370.5 L644.6,1369.9 L647.2,1369.3 L649.8,1368.7 L652.4,1368.1 L655.0,1367.5 L657.6,1366.9 L660.2,1366.3 L662.8,1365.7 L665.4,1365.0 L668.0,1364.4 L670.6,1363.7 L673.2,1363.1 L675.8,1362.4 L678.4,1361.8 L681.0,1361.1 L683.6,1360.4 L686.2,1359.7 L688.8,1359.0 L691.4,1358.4 L694.0,1357.7 L696.6,1357.0 L699.2,1356.2 L701.8,1355.5 L704.4,1354.8 L707.0,1354.1 L709.6,1353.4 L712.2,1352.7 L714.8,1351.9 L717.4,1351.2 L720.0,1350.5 L722.6,1349.7 L725.2,1349.0 L727.8,1348.2 L730.4,1347.5 L733.0,1346.7 L735.6,1346.0 L738.2,1345.2 L740.8,1344.5 L743.4,1343.7 L746.0,1342.9 L748.6,1342.2 L751.2,1341.4 L753.8,1340.7 L756.4,1339.9 L759.0,1339.1 L761.6,1338.4 L764.2,1337.6 L766.8,1336.8 L769.4,1336.1 L772.0,1335.3 L774.6,1334.5 L777.2,1333.8 L779.8,1333.0 L782.4,1332.2 L785.0,1331.5 L787.6,1330.7 L790.2,1329.9 L792.8,1329.2 L795.4,1328.4 L798.0,1327.6 L800.6,1326.9 L803.2,1326.1 L805.8,1325.4 L808.4,1324.6 L811.0,1323.9 L813.6,1323.1 L816.2,1322.4 L818.8,1321.6 L821.4,1320.9 L824.0,1320.2 L826.6,1319.4 L829.2,1318.7 L831.8,1317.9 L834.4,1317.2 L837.0,1316.4 L839.6,1315.7 L842.2,1314.9 L844.8,1314.2 L847.4,1313.4 L850.0,1312.7 L852.6,1311.9 L855.2,1311.2 L857.8,1310.4 L860.4,1309.7 L863.0,1308.9 L865.6,1308.2 L868.2,1307.4 L870.8,1306.6 L873.4,1305.9 L876.0,1305.1 L878.6,1304.3 L881.2,1303.5 L883.8,1302.8 L886.4,1302.0 L889.0,1301.2 L891.6,1300.4 L894.2,1299.6 L896.8,1298.8 L899.4,1298.0 L902.0,1297.2 L904.6,1296.4 L907.2,1295.5 L909.8,1294.7 L912.4,1293.9 L915.0,1293.0 L917.6,1292.2 L920.2,1291.3 L922.8,1290.5 L925.4,1289.6 L928.0,1288.8 L930.6,1287.9 L933.2,1287.0 L935.8,1286.1 L938.4,1285.2 L941.0,1284.3 L943.6,1283.4 L946.2,1282.5 L948.8,1281.6 L951.4,1280.6 L954.0,1279.7 L956.6,1278.7 L959.1,1277.8 L961.7,1276.8 L964.3,1275.8 L966.9,1274.8 L969.5,1273.8 L972.1,1272.8 L974.7,1271.8 L977.3,1270.8 L979.9,1269.7 L982.5,1268.7 L985.1,1267.6 L987.7,1266.6 L990.3,1265.5 L992.9,1264.4 L995.5,1263.3 L998.1,1262.2 L1000.7,1261.1 L1003.3,1259.9 L1005.9,1258.8 L1008.5,1257.6 L1011.1,1256.4 L1013.7,1255.2 L1016.3,1254.0 L1018.9,1252.8 L1021.5,1251.5 L1024.1,1250.2 L1026.7,1248.9 L1029.3,1247.6 L1031.9,1246.2 L1034.5,1244.8 L1037.1,1243.4 L1039.7,1241.9 L1042.3,1240.4 L1044.9,1238.9 L1047.5,1237.3 L1050.1,1235.7 L1052.7,1234.0 L1055.3,1232.3 L1057.9,1230.6 L1060.5,1228.8 L1063.1,1227.0 L1065.7,1225.1 L1068.3,1223.2 L1070.9,1221.2 L1073.5,1219.1 L1076.1,1217.1 L1078.7,1214.9 L1081.3,1212.7 L1083.9,1210.4 L1086.5,1208.1 L1089.1,1205.7 L1091.7,1203.3 L1094.3,1200.7 L1096.9,1198.2 L1099.5,1195.5 L1102.1,1192.8 L1104.7,1190.0 L1107.3,1187.1 L1109.9,1184.2 L1112.5,1181.2 L1115.1,1178.1 L1117.7,1174.9 L1120.3,1171.6 L1122.9,1168.3 L1125.5,1164.9 L1128.1,1161.5 L1130.7,1158.0 L1133.3,1154.5 L1135.9,1151.0 L1138.5,1147.4 L1141.1,1143.8 L1143.7,1140.3 L1146.3,1136.7 L1148.9,1133.1 L1151.5,1129.6 L1154.1,1126.1 L1156.7,1122.6 L1159.3,1119.1 L1161.9,1115.6 L1164.5,1112.0 L1167.1,1108.5 L1169.7,1104.9 L1172.3,1101.3 L1174.9,1097.7 L1177.5,1094.0 L1180.1,1090.3 L1182.7,1086.7 L1185.3,1083.0 L1187.9,1079.2 L1190.5,1075.5 L1193.1,1071.8 L1195.7,1068.0 L1198.3,1064.2 L1200.9,1060.4 L1203.5,1056.6 L1206.1,1052.8 L1208.7,1049.0 L1211.3,1045.2 L1213.9,1041.4 L1216.5,1037.5 L1219.1,1033.7 L1221.7,1029.9 L1224.3,1026.0 L1226.9,1022.2 L1229.5,1018.4 L1232.1,1014.5 L1234.7,1010.7 L1237.3,1006.9 L1239.9,1003.1 L1242.5,999.3 L1245.1,995.5 L1247.7,991.7 L1250.3,987.9 L1252.9,984.2 L1255.5,980.4 L1258.1,976.7 L1260.7,973.0 L1263.3,969.3 L1265.9,965.6 L1268.5,961.9 L1271.1,958.3 L1273.7,954.7 L1276.3,951.1 L1278.9,947.6 L1281.5,944.0 L1284.1,940.5 L1286.7,937.0 L1289.3,933.6 L1291.9,930.2 L1294.5,926.8 L1297.1,923.4 L1299.7,920.1 L1302.3,916.8 L1304.9,913.6 L1307.5,910.4 L1310.1,907.2 L1312.7,904.1 L1315.3,901.0 L1317.9,897.9 L1320.5,894.9 L1323.1,892.0 L1325.7,889.1 L1328.3,886.2 L1330.9,883.4 L1333.5,880.7 L1336.1,878.0 L1338.7,875.3 L1341.3,872.7 L1343.9,870.2 L1346.5,867.7 L1349.1,865.2 L1351.7,862.8 L1354.3,860.5 L1356.9,858.2 L1359.5,855.9 L1362.1,853.7 L1364.7,851.5 L1367.3,849.4 L1369.9,847.2 L1372.5,845.2 L1375.1,843.1 L1377.7,841.1 L1380.3,839.1 L1382.9,837.1 L1385.5,835.1 L1388.1,833.2 L1390.7,831.3 L1393.3,829.4 L1395.9,827.5 L1398.5,825.6 L1401.1,823.7 L1403.7,821.8 L1406.3,820.0 L1408.9,818.1 L1411.4,816.3 L1414.0,814.5 L1416.6,812.7 L1419.2,810.9 L1421.8,809.1 L1424.4,807.3 L1427.0,805.6 L1429.6,803.8 L1432.2,802.1 L1434.8,800.3 L1437.4,798.6 L1440.0,796.9 L1442.6,795.2 L1445.2,793.5 L1447.8,791.8 L1450.4,790.1 L1453.0,788.4 L1455.6,786.7 L1458.2,785.1 L1460.8,783.4 L1463.4,781.8 L1466.0,780.2 L1468.6,778.6 L1471.2,776.9 L1473.8,775.3 L1476.4,773.7 L1479.0,772.2 L1481.6,770.6 L1484.2,769.0 L1486.8,767.4 L1489.4,765.9 L1492.0,764.3 L1494.6,762.8 L1497.2,761.3 L1499.8,759.7 L1502.4,758.2 L1505.0,756.7 L1507.6,755.2 L1510.2,753.7 L1512.8,752.2 L1515.4,750.7 L1518.0,749.3 L1520.6,747.8 L1523.2,746.3 L1525.8,744.9 L1528.4,743.4 L1531.0,742.0 L1533.6,740.5 L1536.2,739.1 L1538.8,737.7 L1541.4,736.2 L1544.0,734.8 L1546.6,733.4 L1549.2,732.0 L1551.8,730.6 L1554.4,729.2 L1557.0,727.8 L1559.6,726.5 L1562.2,725.1 L1564.8,723.7 L1567.4,722.3 L1570.0,721.0 L1572.6,719.6 L1575.2,718.2 L1577.8,716.9 L1580.4,715.6 L1583.0,714.2 L1585.6,712.9 L1588.2,711.5 L1590.8,710.2 L1593.4,708.9 L1596.0,707.6 L1598.6,706.2 L1601.2,704.9 L1603.8,703.6 L1606.4,702.3 L1609.0,701.0 L1611.6,699.7 L1614.2,698.4 L1616.8,697.1 L1619.4,695.8 L1622.0,694.5 L1624.6,693.2 L1627.2,691.9 L1629.8,690.7 L1632.4,689.4 L1635.0,688.1 L1637.6,686.8 L1640.2,685.6 L1642.8,684.3 L1645.4,683.0 L1648.0,681.7 L1650.6,680.5 L1653.2,679.2 L1655.8,678.0 L1658.4,676.7 L1661.0,675.4 L1663.6,674.2 L1664.0,674.0 L1665.0,673.5 L1666.0,672.7 L1666.2,672.4 L1667.0,671.5 L1668.0,670.3 L1668.8,669.4 L1669.0,669.1 L1670.0,667.9 L1671.0,667.1 L1671.4,666.9 L1672.0,666.6 L1674.0,665.6 L1676.6,664.4 L1679.2,663.1 L1681.8,661.9 L1684.4,660.6 L1687.0,659.4 L1689.6,658.1 L1692.2,656.9 L1694.8,655.6 L1697.4,654.4 L1700.0,653.1 L1702.6,651.9 L1705.2,650.6 L1707.8,649.4 L1710.4,648.1 L1713.0,646.9 L1715.6,645.6 L1718.2,644.3 L1720.8,643.1 L1723.4,641.8 L1726.0,640.6 L1728.6,639.3 L1731.2,638.1 L1733.8,636.8 L1736.4,635.5 L1739.0,634.3 L1741.6,633.0 L1744.2,631.7 L1746.8,630.5 L1749.4,629.2 L1752.0,627.9 L1754.6,626.6 L1757.2,625.4 L1759.8,624.1 L1762.4,622.8 L1765.0,621.5 L1767.6,620.2 L1770.2,618.9 L1772.8,617.6 L1775.4,616.3 L1778.0,615.0 L1780.6,613.7 L1783.2,612.4 L1785.8,611.1 L1788.4,609.8 L1791.0,608.5 L1793.6,607.2 L1796.2,605.8 L1798.8,604.5 L1801.4,603.2 L1804.0,601.9 L1806.6,600.6 L1809.2,599.2 L1811.8,597.9 L1814.4,596.6 L1817.0,595.2 L1819.6,593.9 L1822.2,592.6 L1824.8,591.2 L1827.4,589.9 L1830.0,588.6 L1832.6,587.2 L1835.2,585.9 L1837.8,584.6 L1840.4,583.2 L1843.0,581.9 L1845.6,580.5 L1848.2,579.2 L1850.8,577.9 L1853.4,576.5 L1856.0,575.2 L1858.6,573.8 L1861.2,572.5 L1863.8,571.2 L1866.3,569.8 L1868.9,568.5 L1871.5,567.2 L1874.1,565.8 L1876.7,564.5 L1879.3,563.2 L1881.9,561.8 L1884.5,560.5 L1887.1,559.2 L1889.7,557.8 L1892.3,556.5 L1894.9,555.2 L1897.5,553.8 L1900.1,552.5 L1902.7,551.2 L1905.3,549.9 L1907.9,548.6 L1910.5,547.3 L1913.1,545.9 L1915.7,544.6 L1918.3,543.3 L1920.9,542.0 L1923.5,540.7 L1926.1,539.4 L1928.7,538.1 L1931.3,536.8 L1933.9,535.5 L1936.0,534.5 L1936.5,534.2 L1937.0,534.0 L1938.0,533.3 L1939.0,532.3 L1939.1,532.2 L1940.0,531.3 L1941.0,530.4 L1941.7,529.6 L1942.0,529.4 L1943.0,528.7 L1944.0,528.2 L1944.3,528.0 L1946.9,526.7 L1949.5,525.4 L1952.1,524.2 L1954.7,522.9 L1957.3,521.7 L1959.9,520.4 L1962.5,519.1 L1965.1,517.9 L1967.7,516.6 L1970.3,515.4 L1972.9,514.1 L1975.5,512.8 L1978.1,511.6 L1980.7,510.3 L1983.3,509.1 L1985.9,507.8 L1988.5,506.6 L1991.1,505.3 L1993.7,504.0 L1996.3,502.8 L1998.9,501.5 L2001.5,500.3 L2004.1,499.0 L2006.7,497.7 L2009.3,496.4 L2011.9,495.2 L2014.5,493.9 L2017.1,492.6 L2019.7,491.3 L2022.3,490.0 L2024.9,488.7 L2027.0,487.7 L2027.5,487.4 L2028.0,487.2 L2029.0,486.2 L2030.0,484.8 L2030.1,484.6 L2031.0,483.4 L2032.0,482.0 L2032.7,481.0 L2033.0,480.6 L2034.0,479.6 L2035.0,479.1 L2035.3,479.0 L2037.9,477.6 L2040.5,476.3 L2043.1,475.0 L2045.7,473.6 L2048.3,472.3 L2050.9,470.9 L2053.5,469.5 L2056.1,468.1 L2058.7,466.8 L2061.3,465.4 L2063.9,464.0 L2066.5,462.5 L2069.1,461.1 L2071.7,459.7 L2074.3,458.2 L2076.9,456.8 L2079.5,455.3 L2082.1,453.8 L2084.7,452.4 L2087.3,450.9 L2089.9,449.3 L2092.5,447.8" stroke="#0a06d8" stroke-width="9.6"/>
<path d="M275.5,1387.1 L278.1,1387.1 L280.7,1387.0 L283.3,1387.0 L285.9,1386.9 L288.5,1386.9 L291.1,1386.8 L293.7,1386.8 L296.3,1386.8 L298.9,1386.8 L301.5,1386.7 L304.1,1386.7 L306.7,1386.7 L309.3,1386.7 L311.9,1386.7 L314.5,1386.7 L317.1,1386.7 L319.7,1386.7 L322.3,1386.7 L324.9,1386.7 L327.5,1386.7 L330.1,1386.7 L332.7,1386.7 L335.3,1386.7 L337.9,1386.7 L340.5,1386.7 L343.1,1386.7 L345.7,1386.7 L348.3,1386.7 L350.9,1386.7 L353.5,1386.7 L356.1,1386.7 L358.7,1386.7 L361.3,1386.7 L363.9,1386.7 L366.5,1386.7 L369.1,1386.7 L371.7,1386.7 L374.3,1386.7 L376.9,1386.7 L379.5,1386.7 L382.1,1386.7 L384.7,1386.7 L387.3,1386.7 L389.9,1386.7 L392.5,1386.7 L395.1,1386.7 L397.7,1386.7 L400.3,1386.7 L402.9,1386.7 L405.5,1386.7 L408.1,1386.7 L410.7,1386.7 L413.3,1386.7 L415.9,1386.7 L418.5,1386.7 L421.1,1386.7 L423.7,1386.7 L426.3,1386.7 L428.9,1386.7 L431.5,1386.7 L434.1,1386.7 L436.7,1386.7 L439.3,1386.7 L441.9,1386.6 L444.5,1386.6 L447.1,1386.5 L449.7,1386.4 L452.3,1386.4 L454.9,1386.3 L457.5,1386.2 L460.1,1386.1 L462.7,1386.1 L465.3,1386.0 L467.9,1385.9 L470.5,1385.8 L473.1,1385.7 L475.7,1385.5 L478.3,1385.4 L480.9,1385.3 L483.5,1385.2 L486.1,1385.0 L488.7,1384.9 L491.3,1384.7 L493.9,1384.6 L496.5,1384.4 L499.1,1384.2 L501.7,1384.0 L504.2,1383.9 L506.8,1383.7 L509.4,1383.5 L512.0,1383.2 L514.6,1383.0 L517.2,1382.8 L519.8,1382.6 L522.4,1382.3 L525.0,1382.1 L527.6,1381.8 L530.2,1381.5 L532.8,1381.3 L535.4,1381.0 L538.0,1380.7 L540.6,1380.4 L543.2,1380.0 L545.8,1379.7 L548.4,1379.4 L551.0,1379.0 L553.6,1378.7 L556.2,1378.3 L558.8,1377.9 L561.4,1377.6 L564.0,1377.2 L566.6,1376.8 L569.2,1376.4 L571.8,1375.9 L574.4,1375.5 L577.0,1375.1 L579.6,1374.6 L582.2,1374.1 L584.8,1373.7 L587.4,1373.2 L590.0,1372.7 L592.6,1372.2 L595.2,1371.7 L597.8,1371.2 L600.4,1370.7 L603.0,1370.1 L605.6,1369.6 L608.2,1369.0 L610.8,1368.5 L613.4,1367.9 L616.0,1367.3 L618.6,1366.7 L621.2,1366.1 L623.8,1365.5 L626.4,1364.9 L629.0,1364.2 L631.6,1363.6 L634.2,1363.0 L636.8,1362.3 L639.4,1361.6 L642.0,1361.0 L644.6,1360.3 L647.2,1359.6 L649.8,1358.9 L652.4,1358.2 L655.0,1357.4 L657.6,1356.7 L660.2,1356.0 L662.8,1355.2 L665.4,1354.5 L668.0,1353.7 L670.6,1352.9 L673.2,1352.1 L675.8,1351.3 L678.4,1350.5 L681.0,1349.7 L683.6,1348.9 L686.2,1348.1 L688.8,1347.2 L691.4,1346.4 L694.0,1345.5 L696.6,1344.7 L699.2,1343.8 L701.8,1342.9 L704.4,1342.0 L707.0,1341.1 L709.6,1340.2 L712.2,1339.3 L714.8,1338.3 L717.4,1337.4 L720.0,1336.5 L722.6,1335.5 L725.2,1334.5 L727.8,1333.6 L730.4,1332.6 L733.0,1331.6 L735.6,1330.6 L738.2,1329.6 L740.8,1328.6 L743.4,1327.6 L746.0,1326.5 L748.6,1325.5 L751.2,1324.4 L753.8,1323.4 L756.4,1322.3 L759.0,1321.2 L761.6,1320.2 L764.2,1319.1 L766.8,1318.0 L769.4,1316.8 L772.0,1315.7 L774.6,1314.6 L777.2,1313.5 L779.8,1312.3 L782.4,1311.2 L785.0,1310.0 L787.6,1308.8 L790.2,1307.7 L792.8,1306.5 L795.4,1305.3 L798.0,1304.1 L800.6,1302.9 L803.2,1301.6 L805.8,1300.4 L808.4,1299.2 L811.0,1297.9 L813.6,1296.7 L816.2,1295.4 L818.8,1294.2 L821.4,1292.9 L824.0,1291.7 L826.6,1290.4 L829.2,1289.1 L831.8,1287.8 L834.4,1286.6 L837.0,1285.3 L839.6,1284.0 L842.2,1282.7 L844.8,1281.4 L847.4,1280.1 L850.0,1278.9 L852.6,1277.6 L855.2,1276.3 L857.8,1275.0 L860.4,1273.7 L863.0,1272.5 L865.6,1271.2 L868.2,1269.9 L870.8,1268.7 L873.4,1267.4 L876.0,1266.2 L878.6,1264.9 L881.2,1263.7 L883.8,1262.5 L886.4,1261.2 L889.0,1260.0 L891.6,1258.8 L894.2,1257.6 L896.8,1256.4 L899.4,1255.3 L902.0,1254.1 L904.6,1253.0 L907.2,1251.8 L909.8,1250.7 L912.4,1249.5 L915.0,1248.4 L917.6,1247.3 L920.2,1246.2 L922.8,1245.0 L925.4,1243.9 L928.0,1242.8 L930.6,1241.7 L933.2,1240.5 L935.8,1239.4 L938.4,1238.3 L941.0,1237.1 L943.6,1236.0 L946.2,1234.8 L948.8,1233.6 L951.4,1232.4 L954.0,1231.2 L956.6,1230.0 L959.1,1228.7 L961.7,1227.5 L964.3,1226.2 L966.9,1224.9 L969.5,1223.6 L972.1,1222.3 L974.7,1220.9 L977.3,1219.5 L979.9,1218.1 L982.5,1216.7 L985.1,1215.2 L987.7,1213.7 L990.3,1212.2 L992.9,1210.6 L995.5,1209.0 L998.1,1207.4 L1000.7,1205.7 L1003.3,1204.0 L1005.9,1202.2 L1008.5,1200.5 L1011.1,1198.7 L1013.7,1196.8 L1016.3,1194.9 L1018.9,1193.0 L1021.5,1191.0 L1024.1,1189.1 L1026.7,1187.0 L1029.3,1185.0 L1031.9,1182.9 L1034.5,1180.8 L1037.1,1178.6 L1039.7,1176.5 L1042.3,1174.2 L1044.9,1172.0 L1047.5,1169.7 L1050.1,1167.4 L1052.7,1165.0 L1055.3,1162.6 L1057.9,1160.1 L1060.5,1157.6 L1063.1,1155.0 L1065.7,1152.4 L1068.3,1149.7 L1070.9,1147.0 L1073.5,1144.2 L1076.1,1141.3 L1078.7,1138.4 L1081.3,1135.5 L1083.9,1132.4 L1086.5,1129.3 L1089.1,1126.2 L1091.7,1122.9 L1094.3,1119.6 L1096.9,1116.3 L1099.5,1112.9 L1102.1,1109.4 L1104.7,1105.8 L1107.3,1102.2 L1109.9,1098.6 L1112.5,1094.9 L1115.1,1091.1 L1117.7,1087.3 L1120.3,1083.4 L1122.9,1079.5 L1125.5,1075.5 L1128.1,1071.5 L1130.7,1067.4 L1133.3,1063.3 L1135.9,1059.2 L1138.5,1055.0 L1141.1,1050.7 L1143.7,1046.5 L1146.3,1042.1 L1148.9,1037.8 L1151.5,1033.4 L1154.1,1028.9 L1156.7,1024.5 L1159.3,1020.0 L1161.9,1015.4 L1164.5,1010.9 L1167.1,1006.3 L1169.7,1001.6 L1172.3,997.0 L1174.9,992.3 L1177.5,987.6 L1180.1,982.8 L1182.7,978.0 L1185.3,973.3 L1187.9,968.4 L1190.5,963.6 L1193.1,958.7 L1195.7,953.9 L1198.3,949.0 L1200.9,944.1 L1203.5,939.1 L1206.1,934.2 L1208.7,929.2 L1211.3,924.3 L1213.9,919.3 L1216.5,914.3 L1219.1,909.3 L1221.7,904.3 L1224.3,899.3 L1226.9,894.3 L1229.5,889.2 L1232.1,884.2 L1234.7,879.2 L1237.3,874.2 L1239.9,869.2 L1242.5,864.2 L1245.1,859.2 L1247.7,854.3 L1250.3,849.4 L1252.9,844.5 L1255.5,839.6 L1258.1,834.7 L1260.7,829.9 L1263.3,825.2 L1265.9,820.5 L1268.5,815.8 L1271.1,811.1 L1273.7,806.5 L1276.3,802.0 L1278.9,797.5 L1281.5,793.1 L1284.1,788.7 L1286.7,784.3 L1289.3,780.0 L1291.9,775.8 L1294.5,771.6 L1297.1,767.4 L1299.7,763.3 L1302.3,759.3 L1304.9,755.3 L1307.5,751.3 L1310.1,747.4 L1312.7,743.5 L1315.3,739.7 L1317.9,735.9 L1320.5,732.1 L1323.1,728.5 L1325.7,724.8 L1328.3,721.2 L1330.9,717.7 L1333.5,714.2 L1336.1,710.7 L1338.7,707.3 L1341.3,703.9 L1343.9,700.6 L1346.5,697.3 L1349.1,694.1 L1351.7,690.9 L1354.3,687.7 L1356.9,684.6 L1359.5,681.5 L1362.1,678.5 L1364.7,675.6 L1367.3,672.6 L1369.9,669.7 L1372.5,666.9 L1375.1,664.1 L1377.7,661.3 L1380.3,658.6 L1382.9,655.9 L1385.5,653.2 L1388.1,650.6 L1390.7,648.0 L1393.3,645.5 L1395.9,642.9 L1398.5,640.5 L1401.1,638.0 L1403.7,635.6 L1406.3,633.2 L1408.9,630.9 L1411.4,628.5 L1414.0,626.2 L1416.6,624.0 L1419.2,621.7 L1421.8,619.5 L1424.4,617.4 L1427.0,615.2 L1429.6,613.1 L1432.2,611.0 L1434.8,608.9 L1437.4,606.8 L1440.0,604.8 L1442.6,602.8 L1445.2,600.8 L1447.8,598.8 L1450.4,596.9 L1453.0,594.9 L1455.6,593.0 L1458.2,591.1 L1460.8,589.2 L1463.4,587.4 L1466.0,585.5 L1468.6,583.7 L1471.2,581.9 L1473.8,580.1 L1476.4,578.3 L1479.0,576.5 L1481.6,574.7 L1484.2,573.0 L1486.8,571.2 L1489.4,569.5 L1492.0,567.7 L1494.6,566.0 L1497.2,564.3 L1499.8,562.6 L1502.4,560.9 L1505.0,559.2 L1507.6,557.5 L1510.2,555.8 L1512.8,554.1 L1515.4,552.4 L1518.0,550.7 L1520.6,549.0 L1523.2,547.4 L1525.8,545.7 L1528.4,544.0 L1531.0,542.4 L1533.6,540.7 L1536.2,539.0 L1538.8,537.4 L1541.4,535.7 L1544.0,534.1 L1546.6,532.5 L1549.2,530.8 L1551.8,529.2 L1554.4,527.6 L1557.0,525.9 L1559.6,524.3 L1562.2,522.7 L1564.8,521.1 L1567.4,519.5 L1570.0,517.9 L1572.6,516.3 L1575.2,514.7 L1577.8,513.1 L1580.4,511.5 L1583.0,509.9 L1585.6,508.3 L1588.2,506.7 L1590.8,505.1 L1593.4,503.6 L1596.0,502.0 L1598.6,500.4 L1601.2,498.8 L1603.8,497.3 L1606.4,495.7 L1609.0,494.2 L1611.6,492.6 L1614.2,491.1 L1616.8,489.5 L1619.4,488.0 L1622.0,486.4 L1624.6,484.9 L1627.2,483.3 L1629.8,481.8 L1632.4,480.3 L1635.0,478.7 L1637.6,477.2 L1640.2,475.7 L1642.8,474.2 L1645.4,472.6 L1648.0,471.1 L1650.6,469.6 L1653.2,468.1 L1655.8,466.6 L1658.4,465.1 L1661.0,463.6 L1663.6,462.1 L1664.0,461.9 L1665.0,461.3 L1666.0,460.4 L1666.2,460.1 L1667.0,459.1 L1668.0,457.8 L1668.8,456.8 L1669.0,456.5 L1670.0,455.3 L1671.0,454.3 L1671.4,454.1 L1672.0,453.8 L1674.0,452.6 L1676.6,451.1 L1679.2,449.6 L1681.8,448.2 L1684.4,446.7 L1687.0,445.2 L1689.6,443.7 L1692.2,442.2 L1694.8,440.8 L1697.4,439.3 L1700.0,437.8 L1702.6,436.4 L1705.2,434.9 L1707.8,433.4 L1710.4,432.0 L1713.0,430.5 L1715.6,429.1 L1718.2,427.6 L1720.8,426.2 L1723.4,424.7 L1726.0,423.3 L1728.6,421.8 L1731.2,420.4 L1733.8,418.9 L1736.4,417.5 L1739.0,416.0 L1741.6,414.6 L1744.2,413.2 L1746.8,411.7 L1749.4,410.3 L1752.0,408.9 L1754.6,407.4 L1757.2,406.0 L1759.8,404.6 L1762.4,403.2 L1765.0,401.7 L1767.6,400.3 L1770.2,398.9 L1772.8,397.5 L1775.4,396.1 L1778.0,394.6 L1780.6,393.2 L1783.2,391.8 L1785.8,390.4 L1788.4,389.0 L1791.0,387.6 L1793.6,386.2 L1796.2,384.8 L1798.8,383.4 L1801.4,382.0 L1804.0,380.5 L1806.6,379.1 L1809.2,377.7 L1811.8,376.3 L1814.4,374.9 L1817.0,373.6 L1819.6,372.2 L1822.2,370.8 L1824.8,369.4 L1827.4,368.0 L1830.0,366.6 L1832.6,365.2 L1835.2,363.8 L1837.8,362.4 L1840.4,361.0 L1843.0,359.6 L1845.6,358.2 L1848.2,356.9 L1850.8,355.5 L1853.4,354.1 L1856.0,352.7 L1858.6,351.3 L1861.2,349.9 L1863.8,348.6 L1866.3,347.2 L1868.9,345.8 L1871.5,344.4 L1874.1,343.0 L1876.7,341.7 L1879.3,340.3 L1881.9,338.9 L1884.5,337.5 L1887.1,336.2 L1889.7,334.8 L1892.3,333.4 L1894.9,332.0 L1897.5,330.7 L1900.1,329.3 L1902.7,327.9 L1905.3,326.5 L1907.9,325.2 L1910.5,323.8 L1913.1,322.4 L1915.7,321.1 L1918.3,319.7 L1920.9,318.3 L1923.5,317.0 L1926.1,315.6 L1928.7,314.2 L1931.3,312.8 L1933.9,311.5 L1936.0,310.4 L1936.5,310.1 L1937.0,309.9 L1938.0,309.1 L1939.0,308.1 L1939.1,307.9 L1940.0,307.1 L1941.0,306.1 L1941.7,305.3 L1942.0,305.1 L1943.0,304.3 L1944.0,303.8 L1944.3,303.6 L1946.9,302.2 L1949.5,300.9 L1952.1,299.5 L1954.7,298.1 L1957.3,296.7 L1959.9,295.4 L1962.5,294.0 L1965.1,292.6 L1967.7,291.3 L1970.3,289.9 L1972.9,288.5 L1975.5,287.2 L1978.1,285.8 L1980.7,284.4 L1983.3,283.0 L1985.9,281.7 L1988.5,280.3 L1991.1,278.9 L1993.7,277.6 L1996.3,276.2 L1998.9,274.8 L2001.5,273.4 L2004.1,272.1 L2006.7,270.7 L2009.3,269.3 L2011.9,267.9 L2014.5,266.6 L2017.1,265.2 L2019.7,263.8 L2022.3,262.4 L2024.9,261.1 L2027.0,260.0 L2027.5,259.7 L2028.0,259.4 L2029.0,258.4 L2030.0,257.0 L2030.1,256.9 L2031.0,255.6 L2032.0,254.2 L2032.7,253.1 L2033.0,252.7 L2034.0,251.7 L2035.0,251.2 L2035.3,251.0 L2037.9,249.7 L2040.5,248.3 L2043.1,246.9 L2045.7,245.5 L2048.3,244.1 L2050.9,242.7 L2053.5,241.4 L2056.1,240.0 L2058.7,238.6 L2061.3,237.2 L2063.9,235.8 L2066.5,234.4 L2069.1,233.0 L2071.7,231.6 L2074.3,230.2 L2076.9,228.9 L2079.5,227.5 L2082.1,226.1 L2084.7,224.7 L2087.3,223.3 L2089.9,221.9 L2092.5,220.5" stroke="#157a7a" stroke-width="9.6"/>
<path d="M275.5,1386.5 L278.1,1386.5 L280.7,1386.4 L283.3,1386.4 L285.9,1386.3 L288.5,1386.3 L291.1,1386.3 L293.7,1386.2 L296.3,1386.2 L298.9,1386.2 L301.5,1386.2 L304.1,1386.1 L306.7,1386.1 L309.3,1386.1 L311.9,1386.1 L314.5,1386.1 L317.1,1386.1 L319.7,1386.0 L322.3,1386.0 L324.9,1386.0 L327.5,1386.0 L330.1,1386.0 L332.7,1386.0 L335.3,1386.0 L337.9,1386.0 L340.5,1386.0 L343.1,1386.0 L345.7,1386.0 L348.3,1386.0 L350.9,1386.0 L353.5,1386.0 L356.1,1386.0 L358.7,1386.0 L361.3,1386.0 L363.9,1386.0 L366.5,1386.0 L369.1,1386.0 L371.7,1386.0 L374.3,1386.0 L376.9,1386.0 L379.5,1386.0 L382.1,1386.0 L384.7,1386.0 L387.3,1386.0 L389.9,1386.0 L392.5,1386.0 L395.1,1386.0 L397.7,1386.0 L400.3,1386.0 L402.9,1386.0 L405.5,1386.0 L408.1,1386.0 L410.7,1386.0 L413.3,1385.9 L415.9,1385.9 L418.5,1385.9 L421.1,1385.9 L423.7,1385.8 L426.3,1385.8 L428.9,1385.7 L431.5,1385.7 L434.1,1385.7 L436.7,1385.6 L439.3,1385.5 L441.9,1385.5 L444.5,1385.4 L447.1,1385.4 L449.7,1385.3 L452.3,1385.2 L454.9,1385.1 L457.5,1385.1 L460.1,1385.0 L462.7,1384.9 L465.3,1384.8 L467.9,1384.7 L470.5,1384.6 L473.1,1384.4 L475.7,1384.3 L478.3,1384.2 L480.9,1384.1 L483.5,1383.9 L486.1,1383.8 L488.7,1383.6 L491.3,1383.5 L493.9,1383.3 L496.5,1383.1 L499.1,1383.0 L501.7,1382.8 L504.2,1382.6 L506.8,1382.4 L509.4,1382.2 L512.0,1382.0 L514.6,1381.8 L517.2,1381.5 L519.8,1381.3 L522.4,1381.1 L525.0,1380.8 L527.6,1380.6 L530.2,1380.3 L532.8,1380.0 L535.4,1379.7 L538.0,1379.5 L540.6,1379.2 L543.2,1378.9 L545.8,1378.5 L548.4,1378.2 L551.0,1377.9 L553.6,1377.5 L556.2,1377.2 L558.8,1376.8 L561.4,1376.5 L564.0,1376.1 L566.6,1375.7 L569.2,1375.3 L571.8,1374.9 L574.4,1374.5 L577.0,1374.0 L579.6,1373.6 L582.2,1373.2 L584.8,1372.7 L587.4,1372.3 L590.0,1371.8 L592.6,1371.3 L595.2,1370.8 L597.8,1370.3 L600.4,1369.8 L603.0,1369.3 L605.6,1368.8 L608.2,1368.3 L610.8,1367.7 L613.4,1367.2 L616.0,1366.6 L618.6,1366.0 L621.2,1365.5 L623.8,1364.9 L626.4,1364.3 L629.0,1363.7 L631.6,1363.1 L634.2,1362.4 L636.8,1361.8 L639.4,1361.2 L642.0,1360.5 L644.6,1359.9 L647.2,1359.2 L649.8,1358.5 L652.4,1357.8 L655.0,1357.1 L657.6,1356.4 L660.2,1355.7 L662.8,1355.0 L665.4,1354.3 L668.0,1353.5 L670.6,1352.8 L673.2,1352.0 L675.8,1351.2 L678.4,1350.5 L681.0,1349.7 L683.6,1348.9 L686.2,1348.1 L688.8,1347.3 L691.4,1346.4 L694.0,1345.6 L696.6,1344.8 L699.2,1343.9 L701.8,1343.0 L704.4,1342.2 L707.0,1341.3 L709.6,1340.4 L712.2,1339.5 L714.8,1338.6 L717.4,1337.7 L720.0,1336.8 L722.6,1335.8 L725.2,1334.9 L727.8,1333.9 L730.4,1333.0 L733.0,1332.0 L735.6,1331.0 L738.2,1330.0 L740.8,1329.0 L743.4,1328.0 L746.0,1327.0 L748.6,1325.9 L751.2,1324.9 L753.8,1323.9 L756.4,1322.8 L759.0,1321.7 L761.6,1320.7 L764.2,1319.6 L766.8,1318.5 L769.4,1317.4 L772.0,1316.3 L774.6,1315.1 L777.2,1314.0 L779.8,1312.9 L782.4,1311.7 L785.0,1310.5 L787.6,1309.4 L790.2,1308.2 L792.8,1307.0 L795.4,1305.8 L798.0,1304.6 L800.6,1303.4 L803.2,1302.2 L805.8,1300.9 L808.4,1299.7 L811.0,1298.4 L813.6,1297.2 L816.2,1295.9 L818.8,1294.6 L821.4,1293.4 L824.0,1292.1 L826.6,1290.8 L829.2,1289.5 L831.8,1288.2 L834.4,1286.9 L837.0,1285.7 L839.6,1284.4 L842.2,1283.1 L844.8,1281.8 L847.4,1280.5 L850.0,1279.2 L852.6,1278.0 L855.2,1276.7 L857.8,1275.4 L860.4,1274.2 L863.0,1272.9 L865.6,1271.7 L868.2,1270.4 L870.8,1269.2 L873.4,1268.0 L876.0,1266.7 L878.6,1265.5 L881.2,1264.3 L883.8,1263.2 L886.4,1262.0 L889.0,1260.8 L891.6,1259.7 L894.2,1258.5 L896.8,1257.4 L899.4,1256.3 L902.0,1255.2 L904.6,1254.2 L907.2,1253.1 L909.8,1252.1 L912.4,1251.0 L915.0,1250.0 L917.6,1249.0 L920.2,1248.0 L922.8,1247.0 L925.4,1246.0 L928.0,1245.0 L930.6,1244.0 L933.2,1243.0 L935.8,1242.0 L938.4,1241.0 L941.0,1240.0 L943.6,1239.0 L946.2,1238.0 L948.8,1237.0 L951.4,1236.0 L954.0,1234.9 L956.6,1233.9 L959.1,1232.8 L961.7,1231.7 L964.3,1230.6 L966.9,1229.5 L969.5,1228.3 L972.1,1227.2 L974.7,1226.0 L977.3,1224.8 L979.9,1223.5 L982.5,1222.3 L985.1,1221.0 L987.7,1219.7 L990.3,1218.3 L992.9,1216.9 L995.5,1215.5 L998.1,1214.1 L1000.7,1212.6 L1003.3,1211.0 L1005.9,1209.5 L1008.5,1207.9 L1011.1,1206.2 L1013.7,1204.6 L1016.3,1202.9 L1018.9,1201.1 L1021.5,1199.4 L1024.1,1197.6 L1026.7,1195.7 L1029.3,1193.9 L1031.9,1192.0 L1034.5,1190.0 L1037.1,1188.1 L1039.7,1186.1 L1042.3,1184.1 L1044.9,1182.1 L1047.5,1180.0 L1050.1,1177.9 L1052.7,1175.8 L1055.3,1173.6 L1057.9,1171.5 L1060.5,1169.2 L1063.1,1166.9 L1065.7,1164.6 L1068.3,1162.2 L1070.9,1159.8 L1073.5,1157.3 L1076.1,1154.7 L1078.7,1152.1 L1081.3,1149.4 L1083.9,1146.6 L1086.5,1143.7 L1089.1,1140.8 L1091.7,1137.8 L1094.3,1134.7 L1096.9,1131.4 L1099.5,1128.1 L1102.1,1124.7 L1104.7,1121.2 L1107.3,1117.7 L1109.9,1114.0 L1112.5,1110.3 L1115.1,1106.6 L1117.7,1102.8 L1120.3,1099.0 L1122.9,1095.2 L1125.5,1091.4 L1128.1,1087.5 L1130.7,1083.7 L1133.3,1079.8 L1135.9,1075.9 L1138.5,1072.0 L1141.1,1068.0 L1143.7,1064.1 L1146.3,1060.1 L1148.9,1056.2 L1151.5,1052.2 L1154.1,1048.2 L1156.7,1044.1 L1159.3,1040.1 L1161.9,1036.1 L1164.5,1032.0 L1167.1,1027.9 L1169.7,1023.8 L1172.3,1019.7 L1174.9,1015.6 L1177.5,1011.5 L1180.1,1007.3 L1182.7,1003.2 L1185.3,999.0 L1187.9,994.8 L1190.5,990.6 L1193.1,986.4 L1195.7,982.2 L1198.3,978.0 L1200.9,973.7 L1203.5,969.5 L1206.1,965.2 L1208.7,960.9 L1211.3,956.6 L1213.9,952.4 L1216.5,948.0 L1219.1,943.7 L1221.7,939.4 L1224.3,935.1 L1226.9,930.7 L1229.5,926.4 L1232.1,922.0 L1234.7,917.6 L1237.3,913.3 L1239.9,908.9 L1242.5,904.5 L1245.1,900.1 L1247.7,895.7 L1250.3,891.3 L1252.9,886.9 L1255.5,882.5 L1258.1,878.2 L1260.7,873.9 L1263.3,869.6 L1265.9,865.4 L1268.5,861.2 L1271.1,857.1 L1273.7,853.0 L1276.3,849.1 L1278.9,845.2 L1281.5,841.3 L1284.1,837.5 L1286.7,833.8 L1289.3,830.1 L1291.9,826.5 L1294.5,823.0 L1297.1,819.5 L1299.7,816.1 L1302.3,812.7 L1304.9,809.4 L1307.5,806.1 L1310.1,802.9 L1312.7,799.7 L1315.3,796.6 L1317.9,793.5 L1320.5,790.5 L1323.1,787.5 L1325.7,784.6 L1328.3,781.7 L1330.9,778.9 L1333.5,776.1 L1336.1,773.3 L1338.7,770.6 L1341.3,768.0 L1343.9,765.4 L1346.5,762.8 L1349.1,760.2 L1351.7,757.7 L1354.3,755.3 L1356.9,752.9 L1359.5,750.5 L1362.1,748.1 L1364.7,745.8 L1367.3,743.5 L1369.9,741.2 L1372.5,739.0 L1375.1,736.8 L1377.7,734.7 L1380.3,732.5 L1382.9,730.4 L1385.5,728.3 L1388.1,726.3 L1390.7,724.3 L1393.3,722.3 L1395.9,720.3 L1398.5,718.3 L1401.1,716.4 L1403.7,714.5 L1406.3,712.6 L1408.9,710.7 L1411.4,708.9 L1414.0,707.0 L1416.6,705.2 L1419.2,703.4 L1421.8,701.6 L1424.4,699.9 L1427.0,698.1 L1429.6,696.4 L1432.2,694.6 L1434.8,692.9 L1437.4,691.2 L1440.0,689.5 L1442.6,687.8 L1445.2,686.1 L1447.8,684.4 L1450.4,682.7 L1453.0,681.1 L1455.6,679.4 L1458.2,677.8 L1460.8,676.1 L1463.4,674.5 L1466.0,672.8 L1468.6,671.2 L1471.2,669.6 L1473.8,667.9 L1476.4,666.3 L1479.0,664.7 L1481.6,663.1 L1484.2,661.6 L1486.8,660.0 L1489.4,658.4 L1492.0,656.8 L1494.6,655.3 L1497.2,653.8 L1499.8,652.2 L1502.4,650.7 L1505.0,649.2 L1507.6,647.7 L1510.2,646.2 L1512.8,644.8 L1515.4,643.3 L1518.0,641.9 L1520.6,640.4 L1523.2,639.0 L1525.8,637.6 L1528.4,636.2 L1531.0,634.8 L1533.6,633.4 L1536.2,632.1 L1538.8,630.8 L1541.4,629.4 L1544.0,628.1 L1546.6,626.8 L1549.2,625.6 L1551.8,624.3 L1554.4,623.1 L1557.0,621.8 L1559.6,620.6 L1562.2,619.4 L1564.8,618.2 L1567.4,617.0 L1570.0,615.9 L1572.6,614.7 L1575.2,613.6 L1577.8,612.5 L1580.4,611.3 L1583.0,610.2 L1585.6,609.1 L1588.2,608.0 L1590.8,606.9 L1593.4,605.8 L1596.0,604.7 L1598.6,603.7 L1601.2,602.6 L1603.8,601.5 L1606.4,600.5 L1609.0,599.4 L1611.6,598.3 L1614.2,597.3 L1616.8,596.2 L1619.4,595.2 L1622.0,594.1 L1624.6,593.0 L1627.2,592.0 L1629.8,590.9 L1632.4,589.8 L1635.0,588.7 L1637.6,587.7 L1640.2,586.6 L1642.8,585.5 L1645.4,584.4 L1648.0,583.3 L1650.6,582.1 L1653.2,581.0 L1655.8,579.9 L1658.4,578.7 L1661.0,577.6 L1663.6,576.4 L1664.0,576.3 L1665.0,575.8 L1666.0,575.0 L1666.2,574.8 L1667.0,573.9 L1668.0,572.7 L1668.8,571.8 L1669.0,571.6 L1670.0,570.4 L1671.0,569.6 L1671.4,569.4 L1672.0,569.2 L1674.0,568.3 L1676.6,567.1 L1679.2,565.9 L1681.8,564.7 L1684.4,563.6 L1687.0,562.4 L1689.6,561.2 L1692.2,560.0 L1694.8,558.8 L1697.4,557.6 L1700.0,556.4 L1702.6,555.2 L1705.2,554.0 L1707.8,552.9 L1710.4,551.7 L1713.0,550.5 L1715.6,549.3 L1718.2,548.1 L1720.8,546.9 L1723.4,545.7 L1726.0,544.5 L1728.6,543.2 L1731.2,542.0 L1733.8,540.8 L1736.4,539.6 L1739.0,538.4 L1741.6,537.2 L1744.2,536.0 L1746.8,534.8 L1749.4,533.6 L1752.0,532.4 L1754.6,531.2 L1757.2,530.0 L1759.8,528.8 L1762.4,527.6 L1765.0,526.4 L1767.6,525.2 L1770.2,524.0 L1772.8,522.9 L1775.4,521.7 L1778.0,520.5 L1780.6,519.3 L1783.2,518.1 L1785.8,516.9 L1788.4,515.7 L1791.0,514.6 L1793.6,513.4 L1796.2,512.2 L1798.8,511.0 L1801.4,509.9 L1804.0,508.7 L1806.6,507.5 L1809.2,506.4 L1811.8,505.2 L1814.4,504.1 L1817.0,502.9 L1819.6,501.8 L1822.2,500.6 L1824.8,499.5 L1827.4,498.4 L1830.0,497.2 L1832.6,496.1 L1835.2,495.0 L1837.8,493.9 L1840.4,492.7 L1843.0,491.6 L1845.6,490.5 L1848.2,489.4 L1850.8,488.3 L1853.4,487.2 L1856.0,486.2 L1858.6,485.1 L1861.2,484.0 L1863.8,482.9 L1866.3,481.9 L1868.9,480.8 L1871.5,479.7 L1874.1,478.7 L1876.7,477.7 L1879.3,476.6 L1881.9,475.6 L1884.5,474.6 L1887.1,473.5 L1889.7,472.5 L1892.3,471.5 L1894.9,470.5 L1897.5,469.5 L1900.1,468.6 L1902.7,467.6 L1905.3,466.6 L1907.9,465.6 L1910.5,464.7 L1913.1,463.7 L1915.7,462.8 L1918.3,461.8 L1920.9,460.9 L1923.5,459.9 L1926.1,458.9 L1928.7,458.0 L1931.3,457.0 L1933.9,456.1 L1936.0,455.3 L1936.5,455.1 L1937.0,454.9 L1938.0,454.3 L1939.0,453.4 L1939.1,453.3 L1940.0,452.6 L1941.0,451.7 L1941.7,451.1 L1942.0,450.9 L1943.0,450.2 L1944.0,449.9 L1944.3,449.7 L1946.9,448.7 L1949.5,447.7 L1952.1,446.7 L1954.7,445.7 L1957.3,444.6 L1959.9,443.6 L1962.5,442.5 L1965.1,441.4 L1967.7,440.3 L1970.3,439.2 L1972.9,438.0 L1975.5,436.9 L1978.1,435.7 L1980.7,434.5 L1983.3,433.4 L1985.9,432.2 L1988.5,431.1 L1991.1,429.9 L1993.7,428.8 L1996.3,427.7 L1998.9,426.6 L2001.5,425.5 L2004.1,424.4 L2006.7,423.4 L2009.3,422.3 L2011.9,421.3 L2014.5,420.3 L2017.1,419.2 L2019.7,418.2 L2022.3,417.2 L2024.9,416.2 L2027.0,415.4 L2027.5,415.2 L2028.0,415.0 L2029.0,414.2 L2030.0,412.9 L2030.1,412.8 L2031.0,411.6 L2032.0,410.3 L2032.7,409.4 L2033.0,409.1 L2034.0,408.2 L2035.0,407.8 L2035.3,407.7 L2037.9,406.7 L2040.5,405.7 L2043.1,404.7 L2045.7,403.7 L2048.3,402.7 L2050.9,401.7 L2053.5,400.6 L2056.1,399.6 L2058.7,398.5 L2061.3,397.5 L2063.9,396.4 L2066.5,395.3 L2069.1,394.2 L2071.7,393.1 L2074.3,391.9 L2076.9,390.8 L2079.5,389.6 L2082.1,388.4 L2084.7,387.1 L2087.3,385.9 L2089.9,384.6 L2092.5,383.3" stroke="#ee14ee" stroke-width="9.6"/>
</g>
<path d="M1438.5,921 C1440.5,985 1452,1026.5 1509,1025.6" fill="none" stroke="#000" stroke-width="6.8" stroke-dasharray="25 8"/>
<path d="M1531.5,1025.4 L1507.5,1014.2 L1507.5,1036.8 Z" fill="#000"/>
<g class="tk" text-anchor="middle">
<text transform="translate(274.0,1483) scale(1,1.05)">300</text>
<text transform="translate(576.8,1483) scale(1,1.05)">400</text>
<text transform="translate(879.7,1483) scale(1,1.05)">500</text>
<text transform="translate(1182.5,1483) scale(1,1.05)">600</text>
<text transform="translate(1485.3,1483) scale(1,1.05)">700</text>
<text transform="translate(1788.2,1483) scale(1,1.05)">800</text>
<text transform="translate(2091.0,1483) scale(1,1.05)">900</text>
</g>
<g class="tk" text-anchor="end">
<text transform="translate(244.5,1418.8) scale(1,1.05)">0</text>
<text transform="translate(244.5,1084.0) scale(1,1.05)">10</text>
<text transform="translate(244.5,749.3) scale(1,1.05)">20</text>
<text transform="translate(244.5,414.5) scale(1,1.05)">30</text>
<text transform="translate(244.5,79.8) scale(1,1.05)">40</text>
</g>
<text class="ax" transform="translate(791,1590) scale(1,1.054)">W<tspan dx="3.5">avel</tspan><tspan dx="-2.5">ength</tspan></text>
<text class="ax" transform="translate(1349.8,1590) scale(1.12,1.054)">(</text>
<text class="ax" transform="translate(1387.4,1590) scale(1,1.054)">nm</text>
<text class="ax" transform="translate(1536.6,1590) scale(1.12,1.054)">)</text>
<text class="ax" style="letter-spacing:2.2px" transform="translate(122,1132.4) rotate(-90) scale(1,1.054)">Transmittance</text>
<text class="ax" transform="translate(122,423.2) rotate(-90) scale(1.15,1.054)">(</text>
<text class="ax" transform="translate(122,391.4) rotate(-90) scale(1.145,1.054)">%</text>
<text class="ax" transform="translate(122,279.2) rotate(-90) scale(1.15,1.054)">)</text>
<rect x="358.4" y="172.1" width="157.6" height="10.4" rx="3.2" fill="#000000"/>
<text class="lg" transform="translate(529,204.5) scale(1,1.014)">550 k</text>
<rect x="358.4" y="266.1" width="157.6" height="10.4" rx="3.2" fill="#e60f0f"/>
<text class="lg" transform="translate(529,298.5) scale(1,1.014)">550 k:15 k (4:1)</text>
<rect x="358.4" y="360.0" width="157.6" height="10.4" rx="3.2" fill="#0a06d8"/>
<text class="lg" transform="translate(529,392.4) scale(1,1.014)">550 k:15 k (1:1)</text>
<rect x="358.4" y="454.2" width="157.6" height="10.4" rx="3.2" fill="#157a7a"/>
<text class="lg" transform="translate(529,486.6) scale(1,1.014)">550 k:15 k (1:4)</text>
<rect x="358.4" y="548.4" width="157.6" height="10.4" rx="3.2" fill="#ee14ee"/>
<text class="lg" transform="translate(529,580.8) scale(1,1.014)">15 k</text>
</g>
</svg>
</body></html>
